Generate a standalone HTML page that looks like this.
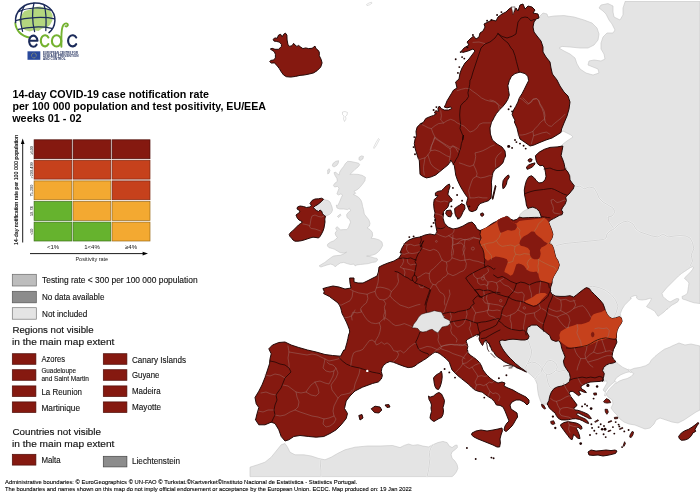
<!DOCTYPE html>
<html><head><meta charset="utf-8"><title>ECDC map</title>
<style>
html,body{margin:0;padding:0;background:#fff;}
body{width:700px;height:494px;overflow:hidden;font-family:"Liberation Sans",sans-serif;}
svg{display:block;position:absolute;left:0;top:0;will-change:transform;}
text{font-family:"Liberation Sans",sans-serif;fill:#111;}
.t{font-weight:bold;font-size:10.3px;fill:#000;}
.l{font-size:8.6px;stroke:#111;stroke-width:0.12px;}
.h{font-size:9.7px;stroke:#111;stroke-width:0.15px;}
.s{font-size:6.8px;stroke:#111;stroke-width:0.1px;}
.f{font-size:5.9px;fill:#000;stroke:#000;stroke-width:0.1px;}
</style></head><body>
<svg width="700" height="494" viewBox="0 0 700 494">
<rect x="0" y="0" width="700" height="494" fill="#ffffff"/>
<!-- ================= MAP ================= -->
<g id="map">
<path d="M625.0,1.5 L700.0,1.5 L700.0,303.5 L694.0,302.8 L690.0,301.5 L686.0,300.0 L682.5,299.0 L682.0,296.5 L685.5,295.0 L687.5,293.0 L688.0,290.0 L688.5,286.5 L689.0,283.0 L687.0,280.5 L684.5,278.5 L685.5,277.0 L688.0,274.5 L690.5,272.0 L692.5,269.5 L693.5,267.5 L692.5,266.8 L690.5,267.5 L687.5,269.5 L684.5,271.5 L681.5,273.5 L678.5,276.0 L675.5,279.0 L672.5,282.0 L669.5,285.0 L666.5,288.0 L664.0,291.0 L662.0,293.5 L663.0,296.5 L665.0,298.5 L667.5,300.5 L670.0,302.0 L672.0,301.0 L674.5,299.5 L677.0,298.5 L679.0,299.0 L678.0,301.5 L675.0,303.5 L672.0,305.0 L669.0,307.5 L667.0,309.5 L667.4,308.6 L664.0,312.0 L660.6,314.6 L658.0,316.3 L654.6,311.1 L650.3,308.6 L646.9,306.9 L646.5,306.5 L648.5,304.0 L650.5,301.0 L651.5,298.5 L650.0,298.2 L646.0,299.5 L642.0,300.0 L638.5,299.5 L636.5,298.0 L637.0,296.0 L635.0,295.5 L632.0,296.5 L630.0,298.0 L631.4,298.3 L628.0,301.7 L624.6,305.1 L622.0,309.4 L620.3,313.7 L621.1,318.0 L612.0,322.0 L590.0,302.0 L560.0,302.0 L546.0,288.0 L545.0,260.0 L545.0,240.0 L544.0,223.0 L548.0,210.0 L555.0,190.0 L555.0,160.0 L558.0,150.0 L562.5,147.0 L560.0,147.0 L563.0,144.0 L567.0,141.0 L570.0,139.0 L573.0,137.0 L571.0,135.0 L567.0,133.0 L563.0,131.0 L561.0,132.4 L558.0,120.0 L558.0,100.0 L546.0,80.0 L532.0,40.0 L533.0,20.0 L539.0,17.0 L543.0,13.0 L547.0,14.0 L548.0,17.0 L554.0,16.0 L564.0,15.6 L574.0,17.0 L584.0,20.0 L592.0,23.0 L597.0,28.0 L599.0,34.0 L598.0,40.0 L594.0,45.0 L588.0,48.0 L580.0,48.0 L570.0,47.0 L562.0,46.4 L559.0,48.0 L564.0,51.0 L570.0,54.0 L575.0,58.0 L577.0,64.0 L580.0,69.0 L586.0,73.0 L593.0,75.0 L599.0,73.0 L598.0,69.0 L593.0,67.0 L588.0,65.0 L589.0,61.0 L594.0,60.0 L601.0,61.0 L605.0,59.0 L604.0,54.0 L601.0,49.0 L601.0,43.0 L603.0,37.0 L607.0,33.0 L613.0,33.0 L615.0,30.0 L612.0,24.0 L609.0,20.0 L606.0,14.0 L603.0,11.0 L599.0,8.0 L601.0,5.0 L608.0,3.6 L613.0,6.0 L613.0,12.0 L614.0,17.0 L620.0,20.0 L623.0,15.0 L623.0,8.0 L625.0,2.0Z" fill="#e4e4e4" stroke="#c4c4c4" stroke-width="0.6" stroke-linejoin="round"/>
<path d="M529.3,207.9 L527.4,209.3 L524.3,210.7 L521.4,212.9 L519.7,215.0 L519.3,217.1 L522.9,218.1 L528.6,218.0 L534.3,217.9 L538.6,217.9 L541.7,218.1 L541.0,215.0 L539.6,211.4 L536.7,208.3 L532.9,206.9Z" fill="#e4e4e4" stroke="#c4c4c4" stroke-width="0.6" stroke-linejoin="round"/>
<path d="M347.7,161.3 L351.1,161.6 L355.1,162.4 L358.6,163.2 L359.7,164.7 L358.0,167.0 L355.1,169.3 L352.3,172.1 L350.0,174.4 L353.4,174.2 L358.0,174.4 L362.0,175.3 L365.4,177.3 L364.9,180.7 L362.6,184.1 L359.7,187.6 L356.9,189.9 L354.0,191.3 L355.7,193.3 L353.4,194.4 L355.7,195.6 L358.6,197.3 L360.9,200.1 L362.0,203.0 L362.6,206.4 L363.5,209.6 L364.3,214.1 L366.6,217.0 L368.9,219.9 L370.0,223.3 L369.4,226.1 L367.1,227.9 L370.0,229.6 L372.3,232.4 L372.6,235.9 L371.1,238.1 L375.1,238.7 L379.1,239.9 L382.0,242.1 L382.6,245.6 L380.9,248.7 L378.6,251.6 L375.7,253.9 L372.9,255.0 L369.4,255.6 L366.6,256.1 L370.6,256.7 L374.0,257.9 L376.9,258.4 L377.7,260.1 L375.7,261.9 L372.3,262.4 L368.3,263.6 L364.3,264.1 L360.3,264.5 L356.9,264.9 L355.1,265.9 L354.0,264.1 L350.6,264.5 L347.1,263.6 L343.7,262.4 L340.3,263.0 L337.4,264.9 L335.1,266.8 L333.4,264.9 L330.6,264.1 L327.1,264.9 L323.7,266.1 L320.9,267.0 L319.1,265.9 L322.0,264.1 L324.9,262.4 L327.7,260.1 L330.6,257.9 L333.4,256.1 L336.9,255.6 L340.3,255.3 L343.7,253.9 L346.6,252.1 L343.7,253.1 L340.3,252.7 L337.4,251.0 L334.6,249.3 L332.3,248.5 L328.9,247.6 L327.4,245.9 L327.7,244.1 L330.6,242.1 L333.4,241.0 L335.7,239.3 L337.4,237.6 L335.7,235.3 L335.1,233.0 L336.9,230.7 L335.7,228.4 L336.9,226.7 L338.6,227.9 L340.3,229.9 L343.7,229.6 L346.6,229.6 L348.3,227.9 L349.4,225.0 L350.6,222.1 L349.4,219.3 L347.1,217.6 L346.6,214.7 L348.3,212.4 L350.6,210.7 L349.4,208.4 L347.7,209.6 L343.7,209.0 L339.7,209.0 L336.9,207.9 L336.3,205.0 L337.4,205.9 L339.1,203.0 L340.3,200.1 L341.4,197.3 L342.6,195.0 L340.9,193.9 L338.6,195.0 L336.9,193.9 L338.0,191.0 L339.1,188.1 L337.4,186.4 L334.6,187.0 L333.4,185.3 L335.1,183.0 L337.4,181.3 L336.9,178.4 L335.1,175.6 L334.0,172.7 L335.7,172.1 L337.4,173.9 L339.1,175.0 L339.7,172.1 L341.4,169.3 L343.7,166.4 L345.4,163.6Z" fill="#e4e4e4" stroke="#c4c4c4" stroke-width="0.6" stroke-linejoin="round"/>
<path d="M323.5,199.2 L325.5,200.0 L328.0,200.5 L330.0,202.0 L331.0,204.5 L332.0,207.0 L332.5,210.0 L331.5,212.5 L329.5,214.5 L327.0,215.5 L325.5,216.2 L324.0,215.5 L322.5,213.5 L321.5,211.0 L320.0,210.0 L318.5,211.5 L316.5,210.5 L314.5,209.0 L313.5,207.5 L315.0,206.0 L317.0,205.0 L319.0,203.5 L321.5,201.5Z" fill="#e4e4e4" stroke="#c4c4c4" stroke-width="0.6" stroke-linejoin="round"/>
<path d="M332.9,163.6 L335.7,161.3 L338.6,160.7 L338.3,163.0 L336.9,165.3 L334.0,167.0 L332.3,165.9Z" fill="#e4e4e4" stroke="#c4c4c4" stroke-width="0.6" stroke-linejoin="round"/>
<path d="M327.7,169.9 L329.2,168.7 L330.0,170.4 L328.9,173.3 L327.7,173.9Z" fill="#e4e4e4" stroke="#c4c4c4" stroke-width="0.6" stroke-linejoin="round"/>
<path d="M359.1,157.3 L361.4,155.9 L363.5,156.4 L362.8,159.0 L360.3,160.5 L358.9,159.6Z" fill="#e4e4e4" stroke="#c4c4c4" stroke-width="0.6" stroke-linejoin="round"/>
<path d="M337.4,216.4 L340.3,214.1 L340.9,215.3 L338.6,217.6Z" fill="#e4e4e4" stroke="#c4c4c4" stroke-width="0.6" stroke-linejoin="round"/>
<path d="M526.6,371.4 L530.9,374.9 L535.1,379.1 L537.2,384.3 L537.7,390.3 L538.6,395.4 L540.3,400.6 L542.0,404.0 L548.0,404.5 L556.0,400.0 L572.0,386.0 L573.0,370.0 L566.0,355.0 L563.0,340.0 L550.0,330.0 L532.0,323.0 L526.0,335.0 L500.0,338.0 L497.0,343.0 L505.0,355.0 L515.0,365.0Z" fill="#e4e4e4" stroke="#c4c4c4" stroke-width="0.6" stroke-linejoin="round"/>
<path d="M616.0,361.7 L618.6,364.3 L622.9,367.4 L627.1,369.3 L628.9,370.4 L634.3,368.3 L640.0,367.4 L645.7,365.7 L649.3,363.6 L651.4,360.0 L655.0,356.4 L659.3,352.9 L664.3,349.3 L670.0,347.1 L672.0,346.0 L679.0,343.0 L685.0,345.0 L691.0,344.0 L700.0,346.0 L700.0,410.0 L696.0,412.0 L690.0,416.0 L684.0,420.0 L678.0,423.0 L672.0,422.0 L666.0,420.0 L660.0,418.0 L656.0,420.0 L654.0,424.0 L650.0,428.0 L645.0,429.0 L640.0,427.0 L635.0,425.0 L629.0,424.0 L624.0,422.0 L620.0,419.0 L617.0,415.0 L614.0,412.0 L611.0,408.0 L613.0,404.0 L612.4,400.0 L608.0,397.0 L605.6,393.0 L605.0,395.7 L606.4,392.1 L604.3,391.4 L603.1,390.0 L605.0,386.4 L607.1,382.9 L606.4,380.7 L603.6,381.7 L602.1,380.7 L603.6,372.9 L604.3,367.4 L608.6,364.3 L612.9,363.7Z" fill="#e4e4e4" stroke="#c4c4c4" stroke-width="0.6" stroke-linejoin="round"/>
<path d="M250.0,467.2 L257.5,464.8 L265.0,462.2 L271.2,457.2 L276.2,451.0 L281.2,444.8 L285.0,443.5 L287.5,447.2 L290.0,452.2 L295.0,454.8 L303.8,454.8 L311.2,456.0 L318.8,458.5 L325.0,459.8 L331.2,457.2 L337.5,453.5 L345.0,449.8 L355.0,447.2 L367.5,446.0 L380.0,446.0 L392.5,445.5 L400.0,447.6 L404.3,445.4 L408.6,444.0 L412.9,445.4 L417.9,444.7 L422.9,446.1 L428.6,446.9 L432.9,444.7 L437.9,442.6 L442.9,441.4 L447.1,442.6 L449.3,446.1 L452.1,447.6 L455.0,445.4 L457.1,445.1 L457.4,447.6 L455.0,449.7 L452.1,451.9 L451.1,454.7 L452.1,458.3 L455.0,461.1 L457.1,464.7 L457.9,468.3 L456.4,471.9 L454.3,474.7 L452.1,476.6 L250.0,476.6Z" fill="#e4e4e4" stroke="#c4c4c4" stroke-width="0.6" stroke-linejoin="round"/>
<path d="M633.9,373.6 L631.0,376.6 L627.1,378.6 L623.1,379.6 L619.3,381.1 L616.4,383.1 L614.3,381.1 L616.6,377.7 L620.9,374.7 L626.0,372.6 L630.3,371.6Z" fill="#ffffff" stroke="#c4c4c4" stroke-width="0.6" stroke-linejoin="round"/>
<path d="M627.9,369.6 L628.7,369.1 L631.4,372.0 L630.3,372.6Z" fill="#ffffff" stroke="#c4c4c4" stroke-width="0.6" stroke-linejoin="round"/>
<path d="M616.4,382.1 L615.4,381.1 L611.4,384.3 L607.9,387.9 L605.4,391.7 L604.7,395.7 L605.7,396.0 L607.1,392.4 L609.7,388.9 L613.1,385.4Z" fill="#ffffff" stroke="#c4c4c4" stroke-width="0.6" stroke-linejoin="round"/>
<path d="M575.0,187.0 L580.0,186.0 L584.0,189.0 L589.0,187.0 L594.0,188.0 L597.0,193.0 L599.0,198.0 L603.0,202.0 L608.0,205.0 L613.0,208.0 L615.0,212.0 L612.0,216.0 L608.0,217.0 L609.0,222.0 L612.0,226.0 L614.0,229.0 L618.0,225.0 L623.0,222.0 L628.0,221.0 L633.0,224.0 L636.0,229.0 L640.0,232.0 L646.0,234.0 L652.0,236.0 L658.0,237.0 L663.0,234.0 L668.0,237.0 L674.0,236.0 L680.0,235.6 L686.0,236.0 L690.0,238.0 L692.5,242.5 L693.8,248.8 L691.2,255.0 L692.5,261.2 L690.0,266.2" fill="none" stroke="#f4f4f4" stroke-width="1.6" stroke-linejoin="round" stroke-linecap="round"/>
<path d="M575.0,187.0 L580.0,186.0 L584.0,189.0 L589.0,187.0 L594.0,188.0 L597.0,193.0 L599.0,198.0 L603.0,202.0 L608.0,205.0 L613.0,208.0 L615.0,212.0 L612.0,216.0 L608.0,217.0 L609.0,222.0 L612.0,226.0 L614.0,229.0 L618.0,225.0 L623.0,222.0 L628.0,221.0 L633.0,224.0 L636.0,229.0 L640.0,232.0 L646.0,234.0 L652.0,236.0 L658.0,237.0 L663.0,234.0 L668.0,237.0 L674.0,236.0 L680.0,235.6 L686.0,236.0 L690.0,238.0 L692.5,242.5 L693.8,248.8 L691.2,255.0 L692.5,261.2 L690.0,266.2" fill="none" stroke="#bdbdbd" stroke-width="0.6" stroke-linejoin="round" stroke-linecap="round"/>
<path d="M614.0,229.0 L610.0,231.0 L607.0,234.0 L606.0,238.0 L603.8,239.5 L595.0,240.5 L585.0,241.5 L575.0,242.5 L565.0,243.5 L556.2,245.5" fill="none" stroke="#f4f4f4" stroke-width="1.6" stroke-linejoin="round" stroke-linecap="round"/>
<path d="M614.0,229.0 L610.0,231.0 L607.0,234.0 L606.0,238.0 L603.8,239.5 L595.0,240.5 L585.0,241.5 L575.0,242.5 L565.0,243.5 L556.2,245.5" fill="none" stroke="#bdbdbd" stroke-width="0.6" stroke-linejoin="round" stroke-linecap="round"/>
<path d="M586.2,287.5 L592.5,286.2 L598.8,287.5 L605.0,290.0 L611.2,294.5 L615.5,300.0 L618.0,306.2 L616.2,312.5 L613.8,317.5" fill="none" stroke="#f4f4f4" stroke-width="1.6" stroke-linejoin="round" stroke-linecap="round"/>
<path d="M586.2,287.5 L592.5,286.2 L598.8,287.5 L605.0,290.0 L611.2,294.5 L615.5,300.0 L618.0,306.2 L616.2,312.5 L613.8,317.5" fill="none" stroke="#bdbdbd" stroke-width="0.6" stroke-linejoin="round" stroke-linecap="round"/>
<path d="M528.3,340.6 L530.0,345.7 L531.7,350.9 L530.9,356.0 L529.1,360.3 L527.4,363.7 L525.7,367.1 L526.6,371.4" fill="none" stroke="#f4f4f4" stroke-width="1.6" stroke-linejoin="round" stroke-linecap="round"/>
<path d="M528.3,340.6 L530.0,345.7 L531.7,350.9 L530.9,356.0 L529.1,360.3 L527.4,363.7 L525.7,367.1 L526.6,371.4" fill="none" stroke="#bdbdbd" stroke-width="0.6" stroke-linejoin="round" stroke-linecap="round"/>
<path d="M527.4,363.7 L531.7,362.0 L536.0,362.9 L539.4,365.4 L542.0,368.9 L541.1,372.3 L538.6,374.9 L536.0,377.4 L535.1,379.1" fill="none" stroke="#f4f4f4" stroke-width="1.6" stroke-linejoin="round" stroke-linecap="round"/>
<path d="M527.4,363.7 L531.7,362.0 L536.0,362.9 L539.4,365.4 L542.0,368.9 L541.1,372.3 L538.6,374.9 L536.0,377.4 L535.1,379.1" fill="none" stroke="#bdbdbd" stroke-width="0.6" stroke-linejoin="round" stroke-linecap="round"/>
<path d="M542.0,368.9 L544.6,365.4 L547.1,361.1 L551.4,360.3 L555.7,362.9 L557.4,367.1 L555.7,370.6 L552.3,373.1 L548.9,374.9 L546.3,374.0 L543.7,371.4 L542.0,368.9" fill="none" stroke="#f4f4f4" stroke-width="1.6" stroke-linejoin="round" stroke-linecap="round"/>
<path d="M542.0,368.9 L544.6,365.4 L547.1,361.1 L551.4,360.3 L555.7,362.9 L557.4,367.1 L555.7,370.6 L552.3,373.1 L548.9,374.9 L546.3,374.0 L543.7,371.4 L542.0,368.9" fill="none" stroke="#bdbdbd" stroke-width="0.6" stroke-linejoin="round" stroke-linecap="round"/>
<path d="M546.3,374.0 L547.1,378.3 L548.0,382.6 L549.7,386.9 L552.3,388.6 L554.0,388.6" fill="none" stroke="#f4f4f4" stroke-width="1.6" stroke-linejoin="round" stroke-linecap="round"/>
<path d="M546.3,374.0 L547.1,378.3 L548.0,382.6 L549.7,386.9 L552.3,388.6 L554.0,388.6" fill="none" stroke="#bdbdbd" stroke-width="0.6" stroke-linejoin="round" stroke-linecap="round"/>
<path d="M555.7,370.6 L559.1,371.4 L563.4,370.6 L566.9,369.7" fill="none" stroke="#f4f4f4" stroke-width="1.6" stroke-linejoin="round" stroke-linecap="round"/>
<path d="M555.7,370.6 L559.1,371.4 L563.4,370.6 L566.9,369.7" fill="none" stroke="#bdbdbd" stroke-width="0.6" stroke-linejoin="round" stroke-linecap="round"/>
<path d="M320.2,460.0 L320.5,466.0 L321.0,471.0 L320.8,476.5" fill="none" stroke="#f4f4f4" stroke-width="1.6" stroke-linejoin="round" stroke-linecap="round"/>
<path d="M320.2,460.0 L320.5,466.0 L321.0,471.0 L320.8,476.5" fill="none" stroke="#bdbdbd" stroke-width="0.6" stroke-linejoin="round" stroke-linecap="round"/>
<path d="M432.9,444.7 L430.7,448.3 L429.3,452.6 L430.0,458.3 L429.3,464.0 L428.6,469.7 L427.1,476.6" fill="none" stroke="#f4f4f4" stroke-width="1.6" stroke-linejoin="round" stroke-linecap="round"/>
<path d="M432.9,444.7 L430.7,448.3 L429.3,452.6 L430.0,458.3 L429.3,464.0 L428.6,469.7 L427.1,476.6" fill="none" stroke="#bdbdbd" stroke-width="0.6" stroke-linejoin="round" stroke-linecap="round"/>
<path d="M273.1,39.3 L275.0,37.9 L277.1,38.3 L278.6,35.0 L280.7,34.3 L282.1,36.9 L283.6,34.3 L285.4,33.1 L286.9,35.0 L287.1,40.0 L287.9,44.3 L289.3,46.4 L292.1,45.7 L293.6,43.3 L295.0,45.0 L296.9,46.4 L298.6,45.4 L300.7,47.1 L302.9,48.6 L305.7,47.9 L308.6,48.6 L312.1,48.3 L315.0,46.1 L316.0,48.6 L317.9,50.0 L319.3,52.1 L319.3,55.7 L321.1,59.3 L322.1,62.9 L320.7,67.1 L317.1,70.7 L313.6,72.9 L309.3,74.0 L304.3,75.0 L300.0,75.4 L295.7,76.4 L290.7,77.1 L286.4,76.7 L283.6,75.0 L281.4,72.1 L279.3,68.6 L276.9,65.4 L274.3,62.9 L271.4,63.1 L269.7,61.7 L270.7,60.4 L273.6,60.0 L275.4,57.9 L275.4,54.3 L274.3,51.7 L272.1,50.3 L270.3,49.0 L272.1,48.3 L275.0,49.3 L278.6,49.3 L281.4,46.4 L281.4,44.3 L279.3,42.1 L276.4,41.4 L274.0,41.1Z" fill="#851910" stroke="#1c0403" stroke-width="0.95" stroke-linejoin="round"/>
<path d="M450.7,160.0 L450.0,162.1 L447.9,165.0 L444.3,167.9 L440.0,171.4 L435.7,175.0 L430.7,177.1 L426.4,177.9 L422.9,176.4 L420.0,174.3 L419.3,160.0 L418.3,158.6 L417.1,155.0 L416.0,151.4 L415.0,147.9 L414.3,143.6 L415.0,139.3 L416.4,135.7 L416.0,131.4 L417.1,127.1 L420.0,124.3 L423.6,122.1 L425.7,118.6 L429.3,116.9 L433.6,115.4 L436.4,113.6 L434.3,112.9 L435.7,110.7 L438.6,111.4 L437.9,108.6 L439.3,106.0 L441.4,108.6 L444.3,110.0 L448.6,110.0 L451.7,108.6 L450.7,106.9 L447.1,107.9 L444.3,107.1 L445.7,104.3 L447.1,100.7 L449.3,97.1 L451.4,93.6 L453.6,90.0 L457.0,88.0 L455.6,82.0 L459.0,79.0 L460.0,73.0 L462.0,68.0 L465.0,63.0 L469.0,59.0 L472.0,55.0 L475.0,51.0 L473.0,49.0 L468.0,51.0 L463.0,52.4 L461.0,51.6 L464.0,48.0 L469.0,45.0 L467.0,42.0 L470.0,39.0 L473.6,36.0 L476.0,39.0 L479.0,37.0 L480.0,33.0 L483.0,31.0 L485.0,27.0 L484.0,24.0 L488.0,22.0 L492.0,20.0 L496.0,21.0 L498.0,17.0 L502.0,14.0 L506.0,12.0 L509.0,9.0 L512.0,7.0 L514.0,12.0 L516.0,8.0 L518.0,11.0 L520.0,5.0 L523.0,4.0 L525.0,9.0 L528.0,6.0 L532.0,7.0 L535.0,10.0 L533.0,13.0 L538.0,14.0 L539.0,18.0 L536.0,19.0 L534.0,22.0 L533.0,27.0 L534.0,32.0 L537.0,36.0 L541.0,41.0 L543.0,47.0 L543.0,52.0 L546.0,57.0 L550.0,62.0 L551.0,68.0 L552.4,74.0 L557.0,80.0 L560.0,86.0 L564.0,92.0 L568.0,96.0 L570.0,102.0 L569.0,109.0 L567.0,116.0 L564.0,123.0 L561.6,129.0 L561.0,132.4 L557.0,135.0 L552.0,138.0 L546.0,140.0 L540.0,142.4 L534.0,145.0 L530.0,146.0 L525.0,142.4 L520.0,139.0 L518.4,134.0 L517.0,128.0 L514.4,122.0 L515.0,120.0 L513.6,117.9 L512.1,114.3 L513.6,110.0 L515.7,106.4 L517.9,102.1 L519.3,97.9 L522.1,93.6 L524.3,89.3 L526.4,85.0 L528.6,80.7 L527.9,76.4 L525.0,73.6 L520.0,72.1 L515.0,73.6 L511.4,76.4 L509.3,80.7 L507.9,85.7 L508.6,90.7 L509.3,95.0 L507.9,99.3 L505.7,102.9 L502.9,106.4 L499.3,110.0 L496.4,113.6 L494.3,117.1 L492.9,120.0 L491.6,122.0 L490.0,128.0 L490.4,134.0 L492.4,140.0 L497.0,144.0 L502.0,147.0 L505.0,151.0 L505.6,156.0 L504.3,158.6 L502.9,162.9 L499.3,166.4 L495.0,169.3 L492.9,172.9 L492.1,177.1 L491.4,182.1 L491.7,187.1 L491.4,192.9 L491.1,197.9 L488.6,200.7 L484.3,202.1 L480.0,203.6 L477.9,206.4 L476.4,210.0 L472.1,211.7 L469.3,210.7 L467.9,207.1 L466.4,203.6 L467.1,200.7 L467.9,197.9 L465.7,195.0 L462.9,190.7 L460.0,185.7 L457.4,180.0 L455.7,175.0 L455.0,170.0 L454.3,165.7 L452.1,162.1Z" fill="#851910" stroke="#1c0403" stroke-width="0.95" stroke-linejoin="round"/>
<path d="M340.5,356.2 L332.5,355.5 L325.0,354.5 L316.2,352.0 L307.5,350.0 L298.8,347.5 L291.2,345.0 L285.0,342.0 L278.8,342.5 L272.5,345.0 L268.8,348.8 L271.2,353.8 L270.0,358.8 L269.5,363.8 L267.5,370.0 L265.0,377.5 L262.0,385.0 L258.8,391.2 L255.0,397.5 L256.2,403.8 L258.8,407.5 L257.0,413.8 L255.5,420.0 L255.5,419.8 L258.8,424.8 L265.0,424.8 L271.2,422.2 L275.0,423.5 L278.8,429.8 L281.2,436.5 L285.0,441.0 L288.8,439.8 L293.8,436.5 L300.0,435.5 L308.8,436.5 L316.2,437.2 L323.8,436.5 L330.0,433.5 L336.2,429.8 L341.2,424.8 L346.2,418.5 L347.5,413.5 L344.5,408.5 L346.2,401.0 L350.0,396.0 L355.0,391.0 L362.5,387.2 L372.5,383.5 L378.4,381.9 L381.3,379.0 L382.4,375.6 L381.3,371.6 L381.9,368.1 L383.6,365.3 L386.4,363.0 L389.9,361.5 L393.3,362.2 L396.7,363.6 L400.1,364.9 L404.1,366.4 L408.1,367.6 L412.1,367.2 L415.0,365.9 L417.9,363.6 L420.7,361.9 L423.6,360.1 L426.4,358.4 L429.3,356.1 L432.1,353.9 L435.0,352.1 L437.9,352.7 L440.7,354.4 L443.6,356.7 L446.4,359.0 L449.3,362.1 L450.7,366.4 L452.1,370.0 L455.0,372.9 L457.9,375.7 L461.4,378.6 L465.0,381.4 L468.6,384.3 L471.4,387.1 L475.0,390.0 L478.6,391.4 L482.1,392.1 L485.0,394.3 L487.9,396.4 L491.4,398.6 L494.3,401.4 L496.4,405.0 L500.0,405.4 L503.0,407.0 L505.0,411.0 L507.0,416.0 L509.0,421.0 L507.0,423.0 L505.0,426.0 L504.0,430.0 L506.0,431.6 L509.0,429.0 L512.0,426.0 L514.0,423.0 L515.6,420.0 L517.6,417.0 L517.0,413.0 L514.0,411.0 L511.0,409.0 L510.0,405.0 L512.0,402.0 L516.0,400.0 L520.0,400.0 L524.0,402.0 L527.0,405.0 L529.0,403.0 L529.0,400.0 L526.0,397.0 L522.0,395.0 L518.0,393.0 L513.0,390.0 L508.0,388.0 L504.0,386.0 L505.0,383.0 L502.0,382.0 L498.0,383.0 L494.0,381.0 L490.0,378.0 L486.0,374.0 L483.0,370.0 L483.0,370.0 L481.5,366.0 L479.5,362.5 L476.5,359.5 L473.0,357.0 L470.0,355.0 L468.0,352.5 L467.2,349.5 L467.8,346.5 L467.0,343.5 L466.0,341.0 L467.5,339.5 L470.0,338.0 L473.0,336.5 L476.0,335.0 L478.5,334.2 L479.5,336.5 L479.0,339.0 L480.0,341.5 L481.5,344.0 L482.5,345.5 L483.5,343.5 L484.5,341.0 L486.2,340.0 L487.5,342.5 L489.0,343.5 L490.0,345.5 L491.0,348.0 L492.0,350.5 L494.0,352.5 L495.5,355.0 L497.5,357.0 L500.0,358.5 L502.0,360.0 L504.0,361.5 L507.0,363.0 L510.0,364.5 L513.0,365.5 L516.0,367.0 L519.0,368.5 L522.0,370.0 L525.0,371.5 L526.5,372.0 L524.0,370.0 L521.0,368.0 L518.0,365.5 L515.5,363.5 L513.0,361.0 L510.5,358.5 L508.0,356.0 L506.0,353.5 L504.0,351.0 L502.5,348.5 L501.0,346.0 L500.0,343.5 L499.5,341.0 L502.0,340.0 L505.0,340.5 L509.0,339.5 L513.0,339.2 L517.0,339.5 L521.0,340.0 L525.0,340.0 L528.0,339.0 L529.1,336.3 L526.6,332.0 L527.4,327.7 L531.7,325.1 L536.9,325.1 L541.1,328.6 L545.4,332.0 L549.7,335.4 L551.4,339.7 L555.7,341.4 L559.1,340.6 L560.9,344.0 L561.7,348.3 L563.4,352.6 L565.1,356.9 L563.4,361.1 L564.3,365.4 L566.9,369.7 L569.4,373.1 L570.3,377.4 L569.4,381.7 L566.0,384.3 L561.7,386.0 L557.4,386.9 L554.0,388.6 L551.4,392.0 L549.7,396.3 L548.9,400.6 L547.1,404.0 L547.9,405.0 L549.3,407.9 L552.1,410.7 L555.0,412.9 L556.4,415.7 L558.6,418.6 L561.4,419.9 L565.0,420.0 L568.6,419.7 L572.1,418.9 L575.7,418.7 L579.3,419.4 L582.9,420.9 L585.7,422.6 L588.6,423.6 L587.9,421.4 L585.7,419.3 L582.9,417.9 L579.3,416.4 L576.4,414.3 L577.9,412.9 L580.7,414.3 L583.6,415.7 L586.4,417.1 L589.3,418.6 L591.4,418.6 L590.0,416.4 L587.9,414.3 L585.0,412.9 L581.4,411.4 L577.9,410.3 L575.0,410.0 L573.6,407.9 L575.7,406.9 L577.1,405.0 L575.0,402.1 L572.9,399.3 L570.7,396.4 L569.3,393.6 L570.0,391.4 L572.9,391.4 L575.7,393.6 L578.6,395.7 L580.7,394.3 L578.6,391.4 L580.7,390.7 L583.6,392.1 L586.4,392.6 L585.0,390.7 L582.1,389.3 L580.7,386.9 L582.9,385.0 L585.7,383.6 L590.0,382.1 L595.0,381.7 L600.0,381.4 L603.6,380.0 L602.1,381.7 L602.6,380.0 L603.6,377.1 L604.3,373.6 L602.6,370.7 L603.6,367.4 L606.4,365.0 L609.3,363.6 L612.9,363.1 L616.0,361.7 L613.6,359.3 L612.1,356.4 L612.6,352.9 L613.6,349.3 L615.4,345.7 L616.9,342.1 L616.0,338.6 L616.4,334.3 L615.7,330.0 L616.4,337.9 L616.4,334.3 L617.1,330.7 L618.6,327.1 L620.7,324.3 L622.1,321.4 L621.4,317.9 L619.3,316.7 L615.7,317.9 L612.1,318.6 L609.3,317.1 L607.1,314.3 L605.4,310.7 L604.3,307.1 L602.9,303.6 L600.0,300.0 L597.1,297.1 L594.3,294.3 L591.4,291.4 L589.3,288.6 L586.4,287.6 L583.6,289.3 L580.0,292.1 L576.4,295.0 L573.6,297.1 L570.0,295.7 L565.0,296.4 L560.0,296.4 L555.7,296.1 L552.1,294.3 L550.3,291.4 L550.7,287.1 L552.1,282.9 L552.1,280.0 L553.6,276.4 L555.7,272.9 L557.9,269.3 L559.3,265.0 L557.9,260.7 L555.7,257.1 L554.6,252.9 L553.6,248.6 L552.1,245.0 L549.3,243.6 L550.0,241.4 L552.1,237.9 L552.9,234.3 L551.7,230.0 L550.0,225.7 L548.6,222.1 L550.7,220.0 L553.6,218.6 L556.4,217.1 L559.3,215.4 L562.1,214.6 L562.9,212.1 L561.4,210.0 L562.9,207.1 L565.0,204.3 L566.4,200.7 L565.7,197.1 L567.9,195.0 L570.0,192.9 L572.1,190.0 L573.1,189.3 L574.3,185.7 L572.1,182.9 L570.0,180.0 L569.7,175.7 L567.9,172.1 L565.0,168.6 L564.3,164.3 L562.9,160.0 L561.1,155.7 L562.1,150.7 L562.9,146.0 L557.1,146.9 L550.0,147.4 L544.3,149.3 L539.3,152.1 L535.4,155.7 L536.0,160.0 L537.4,163.6 L540.0,165.7 L542.9,165.4 L544.6,167.9 L545.4,172.1 L546.0,176.4 L545.0,180.0 L542.1,182.6 L538.9,182.9 L536.4,180.7 L534.3,177.9 L531.4,175.7 L528.6,176.9 L526.4,180.7 L525.0,185.7 L524.3,190.0 L524.6,195.0 L525.7,200.0 L526.4,205.0 L527.9,208.6 L529.3,207.9 L532.9,207.1 L536.4,208.6 L539.3,211.4 L540.7,215.0 L541.4,217.9 L538.6,217.4 L534.3,217.4 L528.6,217.6 L522.9,217.9 L519.3,217.1 L517.1,219.3 L513.6,220.3 L510.7,219.3 L508.6,217.1 L506.4,216.4 L503.6,217.9 L500.0,219.3 L496.4,221.4 L492.9,223.1 L490.0,225.0 L486.0,228.0 L480.0,230.6 L477.0,229.0 L475.0,225.0 L472.0,222.0 L468.0,223.0 L463.0,226.0 L458.0,228.0 L453.0,229.0 L448.0,227.0 L444.4,223.0 L443.0,218.0 L443.6,213.0 L442.9,215.0 L443.6,211.4 L445.7,209.3 L447.9,207.1 L448.6,205.0 L449.3,202.1 L451.7,201.4 L452.1,199.3 L450.0,197.1 L447.9,194.3 L448.6,190.7 L450.0,186.4 L449.3,184.0 L446.4,185.7 L443.6,188.6 L441.4,190.7 L437.9,191.4 L435.4,192.9 L435.4,195.7 L437.9,195.4 L436.4,197.9 L434.3,199.3 L433.6,203.6 L434.0,208.6 L435.0,212.9 L434.3,216.4 L435.7,220.0 L435.0,221.0 L436.0,227.0 L437.0,232.0 L435.0,235.0 L430.0,234.0 L425.0,235.0 L420.0,237.0 L414.0,238.0 L409.0,240.0 L405.0,243.0 L402.0,248.0 L400.0,253.0 L402.0,253.0 L399.0,258.0 L394.0,261.0 L388.0,263.0 L383.0,265.0 L379.0,267.0 L378.4,272.0 L377.0,276.0 L373.0,278.0 L368.0,280.6 L363.0,283.0 L358.0,283.0 L354.0,282.0 L354.0,278.0 L349.6,278.0 L350.0,283.0 L351.0,288.0 L345.0,289.0 L339.0,287.0 L333.0,286.0 L327.0,287.4 L322.9,288.6 L324.3,291.4 L323.6,293.6 L326.4,295.0 L329.3,296.4 L332.1,298.6 L335.0,300.7 L337.9,302.9 L339.3,305.0 L340.7,307.9 L341.4,310.7 L342.1,313.6 L343.6,316.4 L345.0,319.3 L346.4,322.1 L347.9,325.7 L349.3,329.3 L349.7,332.1 L348.6,335.0 L347.9,338.6 L346.9,342.9 L345.7,347.1 L345.0,350.0 L343.8,350.0Z" fill="#851910" stroke="#1c0403" stroke-width="0.95" stroke-linejoin="round"/>
<path d="M310.0,203.5 L312.0,200.5 L315.0,199.0 L318.5,198.8 L321.5,198.2 L323.5,199.2 L321.5,201.5 L319.0,203.5 L317.0,205.0 L315.0,206.0 L313.5,207.5 L314.5,209.0 L316.5,210.5 L318.5,211.5 L320.0,210.0 L321.5,211.0 L322.5,213.5 L324.0,215.5 L325.5,216.2 L324.8,219.0 L325.0,222.0 L324.5,225.0 L324.0,228.0 L323.0,231.0 L321.5,234.0 L320.0,236.5 L318.5,238.0 L316.0,237.5 L313.0,237.2 L310.0,238.0 L307.0,239.0 L304.0,240.0 L301.0,240.8 L298.0,241.2 L295.0,241.2 L293.0,240.0 L291.5,238.0 L290.0,236.5 L289.2,234.5 L290.5,232.5 L292.5,231.0 L294.5,229.0 L296.5,227.0 L298.5,225.0 L300.5,223.5 L302.5,222.0 L301.0,221.0 L299.0,220.0 L297.5,218.5 L296.5,216.5 L296.0,215.0 L298.0,213.5 L300.0,212.0 L299.0,210.0 L297.0,209.0 L297.5,207.0 L300.0,206.0 L303.5,206.5 L306.5,207.5 L309.5,207.0 L311.5,205.5Z" fill="#851910" stroke="#1c0403" stroke-width="0.95" stroke-linejoin="round"/>
<path d="M472.0,433.0 L476.0,431.0 L481.0,430.0 L487.0,431.0 L493.0,430.0 L498.0,429.0 L502.0,428.0 L502.4,431.0 L501.0,435.0 L500.0,439.0 L500.4,443.0 L499.6,447.0 L497.0,447.0 L493.0,445.0 L488.0,443.0 L483.0,441.0 L478.0,439.0 L474.0,437.0 L471.6,435.0Z" fill="#851910" stroke="#1c0403" stroke-width="0.95" stroke-linejoin="round"/>
<path d="M428.5,396.0 L430.0,397.2 L433.5,396.0 L436.5,393.5 L439.0,392.5 L441.5,394.0 L443.0,397.0 L444.5,400.5 L444.0,404.0 L443.0,407.5 L443.5,411.0 L443.0,414.5 L441.5,417.5 L439.0,418.5 L436.5,420.0 L434.0,421.5 L431.5,420.0 L430.0,418.0 L430.5,415.0 L431.5,411.5 L431.0,408.0 L431.5,405.0 L430.5,402.0 L429.0,399.5Z" fill="#851910" stroke="#1c0403" stroke-width="0.95" stroke-linejoin="round"/>
<path d="M433.5,378.0 L435.5,375.5 L438.5,373.5 L440.5,372.5 L441.2,371.0 L442.0,373.5 L442.2,377.0 L441.8,380.5 L441.0,384.0 L440.0,387.0 L438.5,389.5 L436.5,389.0 L435.0,386.5 L434.2,383.0 L433.8,380.0Z" fill="#851910" stroke="#1c0403" stroke-width="0.95" stroke-linejoin="round"/>
<path d="M560.7,424.6 L563.6,422.7 L567.9,421.6 L572.1,422.3 L576.4,423.1 L579.3,424.4 L581.4,426.0 L582.1,428.6 L580.7,429.3 L577.9,427.1 L576.4,428.6 L577.9,431.4 L579.3,435.0 L580.0,438.6 L577.9,438.3 L575.7,436.4 L573.6,434.3 L572.9,437.1 L572.1,439.7 L570.0,438.6 L567.9,435.7 L565.7,432.9 L563.6,430.0 L561.4,427.1 L560.4,425.0Z" fill="#851910" stroke="#1c0403" stroke-width="0.95" stroke-linejoin="round"/>
<path d="M678.6,436.4 L681.4,432.9 L685.0,430.7 L688.6,429.3 L692.1,427.1 L695.0,425.0 L697.9,422.6 L698.9,423.1 L697.1,425.7 L695.0,429.3 L695.7,431.4 L692.9,432.9 L691.4,435.7 L688.6,438.6 L685.0,440.0 L681.4,440.3 L679.3,438.6Z" fill="#851910" stroke="#1c0403" stroke-width="0.95" stroke-linejoin="round"/>
<path d="M508.6,175.0 L509.3,177.1 L507.1,180.7 L506.4,184.3 L504.3,187.9 L502.9,188.6 L502.6,185.0 L503.1,180.7 L505.0,177.9 L507.1,175.7Z" fill="#851910" stroke="#1c0403" stroke-width="0.95" stroke-linejoin="round"/>
<path d="M495.4,185.4 L496.0,186.0 L492.9,199.3 L492.1,199.0Z" fill="#851910" stroke="#1c0403" stroke-width="0.95" stroke-linejoin="round"/>
<path d="M526.4,167.1 L528.6,165.0 L532.1,163.6 L535.0,162.9 L534.3,165.0 L532.1,167.1 L529.3,168.6 L527.1,169.3Z" fill="#851910" stroke="#1c0403" stroke-width="0.95" stroke-linejoin="round"/>
<path d="M527.9,160.0 L530.0,158.6 L532.1,159.3 L531.4,161.4 L529.3,162.1Z" fill="#851910" stroke="#1c0403" stroke-width="0.95" stroke-linejoin="round"/>
<path d="M446.4,210.7 L450.7,210.0 L452.1,213.6 L450.7,216.9 L447.9,216.4 L445.7,213.6Z" fill="#851910" stroke="#1c0403" stroke-width="0.95" stroke-linejoin="round"/>
<path d="M461.4,203.6 L464.6,205.0 L465.0,208.6 L462.9,212.1 L461.4,215.7 L459.3,218.6 L456.4,217.1 L455.0,213.6 L454.6,208.6 L457.4,206.4 L460.0,205.0Z" fill="#851910" stroke="#1c0403" stroke-width="0.95" stroke-linejoin="round"/>
<path d="M480.7,213.6 L482.9,212.9 L483.9,215.0 L482.1,216.4 L480.7,215.4Z" fill="#851910" stroke="#1c0403" stroke-width="0.95" stroke-linejoin="round"/>
<path d="M371.2,408.8 L375.0,406.2 L380.0,407.0 L381.8,410.0 L378.8,413.0 L374.5,412.5Z" fill="#851910" stroke="#1c0403" stroke-width="0.95" stroke-linejoin="round"/>
<path d="M385.0,405.0 L388.8,404.5 L390.0,407.0 L387.0,407.5Z" fill="#851910" stroke="#1c0403" stroke-width="0.95" stroke-linejoin="round"/>
<path d="M358.8,415.5 L362.0,414.5 L363.0,418.0 L360.0,420.0Z" fill="#851910" stroke="#1c0403" stroke-width="0.95" stroke-linejoin="round"/>
<path d="M588.0,452.0 L591.0,450.0 L596.0,451.0 L601.0,450.6 L606.0,450.0 L611.0,450.6 L615.0,450.0 L617.0,451.0 L615.6,453.4 L611.0,454.6 L607.0,455.4 L603.0,456.0 L598.0,455.0 L593.0,455.4 L589.0,455.0Z" fill="#851910" stroke="#1c0403" stroke-width="0.95" stroke-linejoin="round"/>
<path d="M480.7,230.7 L484.3,228.6 L488.6,226.4 L492.9,224.3 L496.4,222.1 L497.9,220.0 L501.4,217.9 L506.4,216.4 L510.0,218.6 L511.4,221.4 L514.3,222.9 L516.4,223.6 L519.3,221.1 L524.3,220.3 L530.0,219.7 L535.7,218.9 L541.4,218.3 L544.3,217.9 L546.4,219.3 L548.6,222.1 L550.0,225.7 L551.7,230.0 L552.9,234.3 L552.1,237.9 L550.0,241.4 L549.3,243.6 L552.1,245.0 L553.6,248.6 L554.6,252.9 L555.7,257.1 L557.9,260.7 L559.3,264.3 L559.3,265.0 L557.9,269.3 L555.7,272.9 L553.6,276.4 L552.1,280.0 L551.4,283.1 L547.1,282.6 L542.9,281.4 L540.0,280.0 L538.9,277.1 L538.3,273.6 L536.4,271.4 L533.6,272.1 L530.0,271.4 L527.1,270.0 L525.7,267.9 L524.0,265.7 L521.4,264.3 L518.6,263.6 L516.4,264.3 L515.4,267.1 L514.3,270.7 L512.9,274.3 L510.7,275.7 L507.4,273.6 L504.3,272.1 L505.0,269.3 L506.4,265.7 L507.9,262.1 L506.9,259.3 L503.6,257.9 L499.3,257.1 L495.7,256.4 L491.4,258.6 L487.9,260.7 L484.3,257.9 L484.3,257.9 L484.0,253.6 L482.9,249.3 L480.7,245.7 L479.3,242.1 L481.1,237.9 L480.0,234.3Z" fill="#c6411c"/>
<path d="M524.3,301.4 L528.6,299.3 L532.9,297.1 L536.4,294.3 L540.7,292.9 L545.0,292.9 L547.1,294.3 L544.3,297.1 L541.4,300.0 L539.3,302.9 L536.4,305.0 L532.9,305.7 L529.3,304.3 L526.4,303.1Z" fill="#c6411c"/>
<path d="M605.0,310.0 L601.4,311.9 L597.1,312.9 L593.6,314.3 L591.4,316.4 L590.7,319.3 L589.3,321.4 L585.7,322.9 L581.4,324.3 L577.1,324.3 L572.9,325.7 L568.6,327.1 L564.3,329.3 L560.7,331.4 L559.3,335.0 L560.0,338.6 L557.9,341.4 L559.1,340.6 L563.4,344.0 L568.6,347.4 L576.3,348.3 L570.0,347.9 L577.1,347.1 L584.3,346.9 L591.4,344.3 L598.6,340.7 L605.7,338.9 L612.9,338.9 L616.0,338.6 L616.4,337.9 L616.4,334.3 L617.1,330.7 L618.6,327.1 L620.7,324.3 L622.1,321.4 L621.4,317.9 L619.3,316.7 L615.7,317.9 L612.1,318.6 L609.3,317.1 L607.1,314.3 L605.4,310.7Z" fill="#c6411c"/>
<path d="M497.9,220.0 L501.4,217.9 L506.4,216.4 L510.0,218.6 L511.4,221.4 L514.3,222.9 L516.4,224.3 L517.1,227.1 L515.0,230.0 L511.4,230.7 L507.9,230.0 L504.3,231.4 L500.7,232.9 L499.3,230.0 L498.3,226.4 L497.4,222.9Z" fill="#851910"/>
<path d="M519.3,243.6 L520.7,239.3 L523.6,236.4 L527.9,234.3 L531.4,231.4 L534.3,231.4 L536.0,234.3 L538.6,236.4 L541.4,238.6 L544.3,241.4 L547.9,243.6 L545.0,245.7 L541.4,247.4 L540.0,250.0 L540.7,253.6 L540.0,257.1 L538.3,259.3 L534.3,259.3 L531.4,257.9 L529.7,254.3 L530.0,250.7 L527.9,247.9 L524.3,246.4 L520.7,245.7Z" fill="#851910"/>
<path d="M511.4,7.1 L512.3,11.1 L513.0,14.7 L514.0,11.4 L515.1,6.9Z" fill="#ffffff" stroke="#1c0403" stroke-width="0.5" stroke-linejoin="round"/>
<path d="M412.1,327.9 L413.6,324.3 L416.4,320.7 L418.6,317.1 L421.4,314.3 L425.7,312.9 L430.0,312.1 L434.3,310.7 L437.9,311.4 L441.4,312.1 L442.9,315.0 L444.3,317.9 L447.1,319.3 L450.0,320.7 L450.3,323.6 L447.9,325.7 L445.0,326.4 L442.1,327.1 L440.0,330.0 L437.9,332.9 L435.0,331.4 L432.1,329.3 L429.3,330.0 L426.4,331.4 L422.9,332.1 L420.0,331.4 L417.9,328.6 L415.0,327.9Z" fill="#e4e4e4" stroke="#1c0403" stroke-width="0.5" stroke-linejoin="round"/>
<path d="M480.7,245.7 L484.3,244.3 L488.6,243.1 L492.9,242.6 L496.4,240.7 L499.3,237.1 L500.7,232.9" fill="none" stroke="#a8744f" stroke-width="0.55" stroke-linejoin="round" stroke-linecap="round"/>
<path d="M496.4,240.7 L498.6,244.3 L502.1,246.4 L506.4,245.7 L510.7,245.0 L515.0,246.4 L519.3,244.3" fill="none" stroke="#a8744f" stroke-width="0.55" stroke-linejoin="round" stroke-linecap="round"/>
<path d="M517.1,227.1 L520.0,230.0 L519.3,233.6 L520.7,237.9 L520.7,239.3" fill="none" stroke="#a8744f" stroke-width="0.55" stroke-linejoin="round" stroke-linecap="round"/>
<path d="M534.3,231.4 L537.1,227.1 L538.6,223.6 L541.4,221.4 L544.3,217.9" fill="none" stroke="#a8744f" stroke-width="0.55" stroke-linejoin="round" stroke-linecap="round"/>
<path d="M515.0,246.4 L514.3,250.7 L515.7,254.3 L513.6,257.9 L512.9,261.4 L507.9,262.9" fill="none" stroke="#a8744f" stroke-width="0.55" stroke-linejoin="round" stroke-linecap="round"/>
<path d="M515.7,254.3 L520.0,255.0 L524.3,253.6 L529.7,254.3" fill="none" stroke="#a8744f" stroke-width="0.55" stroke-linejoin="round" stroke-linecap="round"/>
<path d="M531.4,257.9 L528.6,260.0 L527.1,263.6 L528.6,267.1 L527.1,269.3" fill="none" stroke="#a8744f" stroke-width="0.55" stroke-linejoin="round" stroke-linecap="round"/>
<path d="M484.3,244.3 L485.7,248.6 L488.6,252.1 L491.4,255.7 L491.4,259.3" fill="none" stroke="#a8744f" stroke-width="0.55" stroke-linejoin="round" stroke-linecap="round"/>
<path d="M538.3,259.3 L541.4,261.4 L545.7,263.6 L550.0,265.7 L554.3,267.1 L556.4,270.0" fill="none" stroke="#a8744f" stroke-width="0.55" stroke-linejoin="round" stroke-linecap="round"/>
<path d="M538.3,259.3 L538.6,262.9 L537.9,266.4 L538.6,270.0 L537.9,272.9" fill="none" stroke="#a8744f" stroke-width="0.55" stroke-linejoin="round" stroke-linecap="round"/>
<path d="M547.9,243.6 L550.0,242.1 L552.1,245.0" fill="none" stroke="#a8744f" stroke-width="0.55" stroke-linejoin="round" stroke-linecap="round"/>
<path d="M473.0,42.4 L479.0,42.0 L485.0,43.6" fill="none" stroke="#9c6f68" stroke-width="0.5" stroke-linejoin="round" stroke-linecap="round"/>
<path d="M457.1,90.7 L461.4,89.3 L465.7,88.3 L469.3,88.6 L472.9,91.4 L477.1,94.3 L481.4,97.9 L485.7,100.0 L490.7,101.4 L495.7,102.1 L499.3,105.0 L501.4,107.1" fill="none" stroke="#9c6f68" stroke-width="0.5" stroke-linejoin="round" stroke-linecap="round"/>
<path d="M440.7,110.7 L441.4,115.7 L440.7,120.0 L443.6,122.9 L447.1,120.7 L450.7,119.3 L454.3,120.7 L457.1,122.9 L460.0,124.3 L464.3,126.4 L467.1,129.3 L470.0,132.1 L473.6,130.7 L477.1,127.9 L479.3,124.3 L482.9,122.9 L487.1,122.9 L491.4,122.9" fill="none" stroke="#9c6f68" stroke-width="0.5" stroke-linejoin="round" stroke-linecap="round"/>
<path d="M420.0,123.6 L424.3,125.7 L428.6,127.9 L431.4,128.6 L435.0,125.7 L438.6,123.6 L443.6,122.9" fill="none" stroke="#9c6f68" stroke-width="0.5" stroke-linejoin="round" stroke-linecap="round"/>
<path d="M431.4,128.6 L432.9,132.9 L435.0,137.1 L433.6,141.4 L431.4,145.7 L430.0,150.0" fill="none" stroke="#9c6f68" stroke-width="0.5" stroke-linejoin="round" stroke-linecap="round"/>
<path d="M435.0,137.1 L438.6,140.0 L442.9,142.9 L446.4,145.0 L450.0,147.1 L452.9,145.7 L457.1,147.9 L460.0,150.0" fill="none" stroke="#9c6f68" stroke-width="0.5" stroke-linejoin="round" stroke-linecap="round"/>
<path d="M519.3,97.9 L522.1,99.3 L525.0,102.1 L527.9,104.3 L530.7,102.1 L532.9,99.3 L536.4,98.6 L538.6,100.7 L540.0,105.0 L542.1,108.6 L543.6,112.9 L544.3,117.1 L545.0,120.0" fill="none" stroke="#9c6f68" stroke-width="0.5" stroke-linejoin="round" stroke-linecap="round"/>
<path d="M490.0,100.0 L493.6,100.7 L496.4,102.9 L498.6,105.7 L499.3,110.0" fill="none" stroke="#9c6f68" stroke-width="0.5" stroke-linejoin="round" stroke-linecap="round"/>
<path d="M522.9,97.9 L525.7,100.7 L528.6,103.6 L531.4,102.1 L532.9,99.3 L536.4,98.6 L538.6,100.0 L540.0,103.6 L542.1,107.1 L544.3,111.4 L545.0,115.7 L544.3,119.3 L545.7,122.9 L548.6,125.7 L551.4,126.4 L554.3,123.6 L557.9,120.7 L561.4,117.9 L565.0,114.3" fill="none" stroke="#9c6f68" stroke-width="0.5" stroke-linejoin="round" stroke-linecap="round"/>
<path d="M544.3,119.3 L540.7,122.1 L537.9,125.7 L535.0,128.6 L532.9,131.4 L529.3,132.9 L525.7,134.3 L522.1,135.0 L517.9,135.0" fill="none" stroke="#9c6f68" stroke-width="0.5" stroke-linejoin="round" stroke-linecap="round"/>
<path d="M532.9,131.4 L533.6,135.7 L532.4,140.0 L531.4,143.6" fill="none" stroke="#9c6f68" stroke-width="0.5" stroke-linejoin="round" stroke-linecap="round"/>
<path d="M533.6,135.7 L537.9,134.3 L542.1,132.9 L546.4,132.1 L550.0,134.3" fill="none" stroke="#9c6f68" stroke-width="0.5" stroke-linejoin="round" stroke-linecap="round"/>
<path d="M434.3,137.9 L432.9,142.1 L431.4,146.4 L430.7,150.7 L427.9,155.0 L425.0,157.9 L422.1,158.6 L418.6,160.0" fill="none" stroke="#9c6f68" stroke-width="0.5" stroke-linejoin="round" stroke-linecap="round"/>
<path d="M427.9,155.0 L429.3,159.3 L430.7,163.6 L433.6,167.1 L437.1,169.3 L440.7,171.4" fill="none" stroke="#9c6f68" stroke-width="0.5" stroke-linejoin="round" stroke-linecap="round"/>
<path d="M425.0,157.9 L424.3,162.1 L423.6,166.4 L423.6,170.7 L424.3,175.0" fill="none" stroke="#9c6f68" stroke-width="0.5" stroke-linejoin="round" stroke-linecap="round"/>
<path d="M434.3,137.9 L438.6,140.7 L442.9,143.6 L446.4,146.4 L450.0,148.6 L452.9,146.4 L455.7,147.9 L457.9,152.1" fill="none" stroke="#9c6f68" stroke-width="0.5" stroke-linejoin="round" stroke-linecap="round"/>
<path d="M450.0,148.6 L450.7,152.9 L450.0,157.1 L449.3,160.7 L450.7,162.9" fill="none" stroke="#9c6f68" stroke-width="0.5" stroke-linejoin="round" stroke-linecap="round"/>
<path d="M430.7,150.7 L435.0,150.0 L439.3,151.4 L442.9,153.6 L446.4,155.7 L450.0,157.1" fill="none" stroke="#9c6f68" stroke-width="0.5" stroke-linejoin="round" stroke-linecap="round"/>
<path d="M459.3,162.9 L463.6,164.3 L467.1,165.7 L470.0,166.4 L473.6,165.0 L475.0,160.7 L475.7,156.4 L475.0,152.9 L478.6,152.1 L482.9,150.7 L487.1,148.6 L490.7,146.4 L494.3,145.0" fill="none" stroke="#9c6f68" stroke-width="0.5" stroke-linejoin="round" stroke-linecap="round"/>
<path d="M473.6,165.0 L475.7,169.3 L477.1,173.6 L476.4,176.4 L472.9,178.6 L471.4,182.1 L470.0,186.4 L468.6,190.7 L469.3,194.3 L470.0,197.9" fill="none" stroke="#9c6f68" stroke-width="0.5" stroke-linejoin="round" stroke-linecap="round"/>
<path d="M476.4,176.4 L480.7,177.9 L485.0,177.1 L489.3,175.7 L492.9,175.7" fill="none" stroke="#9c6f68" stroke-width="0.5" stroke-linejoin="round" stroke-linecap="round"/>
<path d="M495.7,167.1 L495.4,162.9 L495.7,158.6 L497.9,155.0 L501.4,152.1" fill="none" stroke="#9c6f68" stroke-width="0.5" stroke-linejoin="round" stroke-linecap="round"/>
<path d="M470.0,197.9 L474.3,197.9 L478.6,197.1 L482.9,197.9 L487.1,197.9" fill="none" stroke="#9c6f68" stroke-width="0.5" stroke-linejoin="round" stroke-linecap="round"/>
<path d="M566.0,201.0 L564.5,200.0 L562.0,201.0 L559.5,202.0 L557.0,202.5 L555.0,201.0 L553.5,199.5 L551.0,200.0 L551.5,203.0 L552.8,205.5 L553.5,208.5 L552.8,211.0 L554.0,213.0 L557.0,213.5 L560.0,214.0" fill="none" stroke="#9c6f68" stroke-width="0.5" stroke-linejoin="round" stroke-linecap="round"/>
<path d="M435.7,232.9 L439.3,235.0 L442.9,236.4 L445.7,237.1 L448.6,235.7 L451.4,234.3 L453.6,232.1 L454.3,229.3" fill="none" stroke="#9c6f68" stroke-width="0.5" stroke-linejoin="round" stroke-linecap="round"/>
<path d="M448.6,235.7 L452.1,237.9 L456.4,239.3 L460.7,238.6 L465.0,240.0 L469.3,238.6 L473.6,237.1 L477.9,238.6 L480.0,239.3" fill="none" stroke="#9c6f68" stroke-width="0.5" stroke-linejoin="round" stroke-linecap="round"/>
<path d="M452.1,237.9 L452.9,242.1 L452.1,246.4 L453.6,250.7 L452.9,255.0" fill="none" stroke="#9c6f68" stroke-width="0.5" stroke-linejoin="round" stroke-linecap="round"/>
<path d="M465.0,240.0 L464.3,244.3 L465.0,248.6 L463.6,252.9 L462.9,255.0" fill="none" stroke="#9c6f68" stroke-width="0.5" stroke-linejoin="round" stroke-linecap="round"/>
<path d="M436.4,200.7 L440.7,201.9 L444.3,201.0 L447.9,201.9" fill="none" stroke="#9c6f68" stroke-width="0.5" stroke-linejoin="round" stroke-linecap="round"/>
<path d="M434.7,213.6 L438.6,214.3 L442.1,215.7 L443.3,218.6" fill="none" stroke="#9c6f68" stroke-width="0.5" stroke-linejoin="round" stroke-linecap="round"/>
<path d="M422.1,247.9 L425.7,249.3 L430.0,250.7 L433.6,249.3 L437.1,250.7 L439.3,253.6 L440.7,257.1 L442.1,260.0" fill="none" stroke="#9c6f68" stroke-width="0.5" stroke-linejoin="round" stroke-linecap="round"/>
<path d="M452.9,235.0 L452.9,240.0 L452.9,245.0 L452.1,249.3 L451.4,253.6 L452.1,257.9 L450.0,260.7 L446.4,262.1 L442.9,260.7 L442.1,260.0" fill="none" stroke="#9c6f68" stroke-width="0.5" stroke-linejoin="round" stroke-linecap="round"/>
<path d="M442.1,260.0 L439.3,262.9 L436.4,265.7 L433.6,268.6 L430.7,270.7 L429.3,273.6 L425.7,272.9 L422.9,274.3 L420.0,276.4 L417.1,277.9" fill="none" stroke="#9c6f68" stroke-width="0.5" stroke-linejoin="round" stroke-linecap="round"/>
<path d="M446.4,262.1 L447.1,265.7 L446.4,270.0 L447.9,273.6 L445.7,276.4 L442.9,277.9 L440.7,280.7 L437.9,282.1 L435.7,285.0 L432.9,284.3 L430.7,282.1 L429.3,277.9 L429.3,273.6" fill="none" stroke="#9c6f68" stroke-width="0.5" stroke-linejoin="round" stroke-linecap="round"/>
<path d="M452.1,257.9 L456.4,259.3 L460.7,260.7 L465.0,260.0 L466.4,263.6 L465.7,267.9 L463.6,270.7 L460.0,272.1 L456.4,274.3 L452.9,275.7 L450.0,274.3 L447.9,273.6" fill="none" stroke="#9c6f68" stroke-width="0.5" stroke-linejoin="round" stroke-linecap="round"/>
<path d="M465.0,260.0 L469.3,259.3 L473.6,260.7 L477.9,261.4 L482.1,262.9 L484.7,263.6" fill="none" stroke="#9c6f68" stroke-width="0.5" stroke-linejoin="round" stroke-linecap="round"/>
<path d="M452.9,245.0 L457.1,243.6 L461.4,242.9 L463.6,245.7 L462.9,250.0 L464.3,254.3 L465.0,260.0" fill="none" stroke="#9c6f68" stroke-width="0.5" stroke-linejoin="round" stroke-linecap="round"/>
<path d="M457.1,243.6 L460.7,240.7 L465.0,239.3 L469.3,240.0 L473.6,237.9 L477.9,238.6 L481.4,239.3" fill="none" stroke="#9c6f68" stroke-width="0.5" stroke-linejoin="round" stroke-linecap="round"/>
<path d="M435.7,285.0 L437.9,288.6 L440.0,292.1 L443.6,294.3 L445.0,297.9 L444.3,302.1 L445.0,305.0" fill="none" stroke="#9c6f68" stroke-width="0.5" stroke-linejoin="round" stroke-linecap="round"/>
<path d="M432.9,284.3 L431.4,287.1 L430.0,289.3" fill="none" stroke="#9c6f68" stroke-width="0.5" stroke-linejoin="round" stroke-linecap="round"/>
<path d="M418.6,284.3 L420.0,287.1 L422.9,287.9 L423.6,285.7" fill="none" stroke="#9c6f68" stroke-width="0.5" stroke-linejoin="round" stroke-linecap="round"/>
<path d="M472.9,272.9 L474.3,276.4 L477.1,278.6 L480.7,277.9 L483.6,275.7 L486.4,273.6 L488.6,271.4 L487.9,268.6" fill="none" stroke="#9c6f68" stroke-width="0.5" stroke-linejoin="round" stroke-linecap="round"/>
<path d="M477.1,278.6 L477.9,282.9 L480.7,285.0 L484.3,284.3 L487.1,285.7 L488.6,283.6" fill="none" stroke="#9c6f68" stroke-width="0.5" stroke-linejoin="round" stroke-linecap="round"/>
<path d="M403.6,243.6 L407.1,245.0 L410.7,244.3 L414.3,245.7 L417.9,245.0 L421.4,244.3" fill="none" stroke="#9c6f68" stroke-width="0.5" stroke-linejoin="round" stroke-linecap="round"/>
<path d="M407.1,245.0 L406.4,249.3 L408.6,252.9 L412.1,253.6 L416.4,252.9 L420.0,251.4" fill="none" stroke="#9c6f68" stroke-width="0.5" stroke-linejoin="round" stroke-linecap="round"/>
<path d="M400.7,253.6 L404.3,254.3 L408.6,252.9" fill="none" stroke="#9c6f68" stroke-width="0.5" stroke-linejoin="round" stroke-linecap="round"/>
<path d="M402.9,257.9 L403.6,261.4 L402.1,265.0 L400.0,267.1 L403.6,268.6 L407.9,269.3 L411.4,270.0 L415.0,271.4" fill="none" stroke="#9c6f68" stroke-width="0.5" stroke-linejoin="round" stroke-linecap="round"/>
<path d="M407.1,258.6 L407.9,262.9 L410.7,265.0 L413.6,264.3 L416.4,264.3" fill="none" stroke="#9c6f68" stroke-width="0.5" stroke-linejoin="round" stroke-linecap="round"/>
<path d="M403.6,268.6 L405.0,272.1 L404.3,276.4" fill="none" stroke="#9c6f68" stroke-width="0.5" stroke-linejoin="round" stroke-linecap="round"/>
<path d="M378.3,272.9 L378.6,277.9 L377.9,282.9 L376.4,287.9 L380.0,287.1 L384.3,287.9 L388.6,289.3 L391.4,291.4 L394.3,288.6 L397.1,285.0 L398.6,281.4 L397.9,277.1 L397.9,273.6" fill="none" stroke="#9c6f68" stroke-width="0.5" stroke-linejoin="round" stroke-linecap="round"/>
<path d="M376.4,287.9 L375.0,291.4 L376.4,295.7 L379.3,299.3 L383.6,300.0 L387.1,298.6 L390.0,295.7 L391.4,291.4" fill="none" stroke="#9c6f68" stroke-width="0.5" stroke-linejoin="round" stroke-linecap="round"/>
<path d="M350.0,289.3 L354.3,291.4 L358.6,292.9 L362.9,293.6 L367.1,294.3 L370.0,292.9 L375.0,291.4" fill="none" stroke="#9c6f68" stroke-width="0.5" stroke-linejoin="round" stroke-linecap="round"/>
<path d="M352.9,291.4 L352.1,297.1 L350.0,300.7 L345.7,302.9 L341.4,305.0 L339.3,305.0" fill="none" stroke="#9c6f68" stroke-width="0.5" stroke-linejoin="round" stroke-linecap="round"/>
<path d="M367.1,294.3 L367.9,298.6 L366.4,302.9 L362.9,305.7 L360.7,308.6 L361.4,312.1 L357.1,312.9 L352.9,312.1 L351.4,315.7 L352.1,320.0" fill="none" stroke="#9c6f68" stroke-width="0.5" stroke-linejoin="round" stroke-linecap="round"/>
<path d="M383.6,300.0 L385.7,303.6 L384.3,307.1 L385.0,311.4 L383.6,315.7 L384.3,320.0" fill="none" stroke="#9c6f68" stroke-width="0.5" stroke-linejoin="round" stroke-linecap="round"/>
<path d="M390.0,295.7 L392.9,299.3 L396.4,302.1 L400.0,305.0 L404.3,306.4 L408.6,307.9 L412.9,306.4 L417.1,305.0 L420.0,304.3" fill="none" stroke="#9c6f68" stroke-width="0.5" stroke-linejoin="round" stroke-linecap="round"/>
<path d="M344.3,317.9 L348.6,317.1 L352.1,315.7 L353.6,312.9 L355.0,310.0" fill="none" stroke="#9c6f68" stroke-width="0.5" stroke-linejoin="round" stroke-linecap="round"/>
<path d="M360.7,310.0 L362.9,313.6 L365.0,317.1 L367.9,320.7 L371.4,322.9 L375.7,323.6 L379.3,322.9 L382.1,320.0 L385.0,317.9 L385.7,314.3 L385.0,310.0" fill="none" stroke="#9c6f68" stroke-width="0.5" stroke-linejoin="round" stroke-linecap="round"/>
<path d="M385.0,317.9 L388.6,320.0 L392.1,323.6 L395.7,325.7 L400.0,325.0 L404.3,323.6 L407.9,325.0 L411.4,326.4" fill="none" stroke="#9c6f68" stroke-width="0.5" stroke-linejoin="round" stroke-linecap="round"/>
<path d="M379.3,322.9 L380.7,327.1 L380.0,331.4 L378.6,335.7 L376.4,339.3 L375.0,342.1 L372.1,340.0 L369.3,340.7 L367.1,343.6 L365.0,346.4 L362.9,349.3 L360.0,350.7 L356.4,351.4 L353.6,352.9 L352.1,357.1 L351.4,361.4 L350.7,366.0" fill="none" stroke="#9c6f68" stroke-width="0.5" stroke-linejoin="round" stroke-linecap="round"/>
<path d="M375.0,342.1 L376.4,345.0 L379.3,343.6 L381.4,342.1 L384.3,344.3 L387.1,342.9 L390.0,345.0 L392.1,347.9 L393.6,350.7 L397.1,351.4 L398.6,354.3 L397.1,357.9 L395.0,360.0 L392.9,361.7" fill="none" stroke="#9c6f68" stroke-width="0.5" stroke-linejoin="round" stroke-linecap="round"/>
<path d="M397.1,351.4 L400.7,350.7 L403.6,352.9 L406.4,350.7 L408.6,347.9 L411.4,345.7 L414.3,343.6 L416.4,343.6" fill="none" stroke="#9c6f68" stroke-width="0.5" stroke-linejoin="round" stroke-linecap="round"/>
<path d="M288.0,346.0 L289.0,352.0 L288.0,358.0 L289.0,364.0 L289.0,368.0" fill="none" stroke="#9c6f68" stroke-width="0.5" stroke-linejoin="round" stroke-linecap="round"/>
<path d="M289.0,352.0 L295.0,353.0 L301.0,354.0 L307.0,355.0 L312.0,354.0 L317.0,355.0 L321.0,357.0 L325.0,359.0 L329.0,361.0 L334.0,360.0 L338.0,359.0 L340.0,358.0" fill="none" stroke="#9c6f68" stroke-width="0.5" stroke-linejoin="round" stroke-linecap="round"/>
<path d="M325.0,359.0 L324.0,364.0 L323.0,368.0 L326.0,371.0 L330.0,372.0 L334.0,371.0 L336.0,368.0 L333.0,365.0 L329.0,364.0 L327.0,362.0" fill="none" stroke="#9c6f68" stroke-width="0.5" stroke-linejoin="round" stroke-linecap="round"/>
<path d="M334.0,371.0 L333.0,376.0 L331.0,380.0 L329.0,384.0 L325.0,383.0 L320.0,381.0 L315.0,382.0 L311.0,385.0 L308.0,389.0 L306.0,392.0 L311.0,395.0 L316.0,396.0 L319.0,393.0 L318.0,388.0 L315.0,382.0" fill="none" stroke="#9c6f68" stroke-width="0.5" stroke-linejoin="round" stroke-linecap="round"/>
<path d="M306.0,392.0 L301.0,393.0 L296.0,392.0 L292.0,389.0 L288.0,386.0 L283.0,385.0" fill="none" stroke="#9c6f68" stroke-width="0.5" stroke-linejoin="round" stroke-linecap="round"/>
<path d="M296.0,392.0 L297.0,397.0 L299.0,402.0 L298.0,407.0 L295.0,410.0 L290.0,412.0 L285.0,415.0 L280.0,416.0 L275.0,415.0" fill="none" stroke="#9c6f68" stroke-width="0.5" stroke-linejoin="round" stroke-linecap="round"/>
<path d="M295.0,410.0 L300.0,412.0 L306.0,414.0 L312.0,416.0 L318.0,417.0 L324.0,419.0 L329.0,418.0 L334.0,416.0" fill="none" stroke="#9c6f68" stroke-width="0.5" stroke-linejoin="round" stroke-linecap="round"/>
<path d="M324.0,419.0 L323.0,424.0 L326.0,427.0 L330.0,426.0 L334.0,423.0 L336.0,419.0 L334.0,416.0 L333.0,411.0 L334.0,406.0 L336.0,402.0 L338.0,398.0 L341.0,395.0 L346.0,394.0 L350.0,393.0 L352.0,390.0" fill="none" stroke="#9c6f68" stroke-width="0.5" stroke-linejoin="round" stroke-linecap="round"/>
<path d="M360.0,369.0 L359.0,374.0 L357.0,379.0 L355.0,384.0 L354.0,389.0 L352.0,393.0" fill="none" stroke="#9c6f68" stroke-width="0.5" stroke-linejoin="round" stroke-linecap="round"/>
<path d="M336.0,368.0 L338.0,373.0 L336.0,378.0 L333.0,382.0 L331.0,385.0 L332.0,390.0 L335.0,394.0 L338.0,398.0" fill="none" stroke="#9c6f68" stroke-width="0.5" stroke-linejoin="round" stroke-linecap="round"/>
<path d="M265.0,375.0 L270.0,376.0 L275.0,374.0 L280.0,375.0 L285.0,378.0" fill="none" stroke="#9c6f68" stroke-width="0.5" stroke-linejoin="round" stroke-linecap="round"/>
<path d="M261.0,393.0 L266.0,392.0 L271.0,394.0 L276.0,395.0" fill="none" stroke="#9c6f68" stroke-width="0.5" stroke-linejoin="round" stroke-linecap="round"/>
<path d="M258.0,411.0 L263.0,412.0 L268.0,410.0 L274.0,410.0" fill="none" stroke="#9c6f68" stroke-width="0.5" stroke-linejoin="round" stroke-linecap="round"/>
<path d="M437.9,332.9 L438.6,336.4 L437.9,340.0 L439.3,343.6 L441.4,346.4 L440.7,348.6" fill="none" stroke="#9c6f68" stroke-width="0.5" stroke-linejoin="round" stroke-linecap="round"/>
<path d="M418.6,349.3 L422.9,347.9 L427.1,346.4 L431.4,347.1 L435.0,348.6 L437.9,350.0 L440.7,348.6 L444.3,350.0 L448.6,351.4 L452.9,353.6 L457.1,355.0 L461.4,356.4 L465.0,358.6" fill="none" stroke="#9c6f68" stroke-width="0.5" stroke-linejoin="round" stroke-linecap="round"/>
<path d="M450.3,323.6 L451.4,327.1 L450.7,330.7 L452.1,334.3 L455.0,336.4 L457.1,339.3 L456.4,342.1" fill="none" stroke="#9c6f68" stroke-width="0.5" stroke-linejoin="round" stroke-linecap="round"/>
<path d="M453.6,321.4 L455.0,325.0 L457.9,327.1 L460.7,325.7 L463.6,323.6 L465.7,319.3" fill="none" stroke="#9c6f68" stroke-width="0.5" stroke-linejoin="round" stroke-linecap="round"/>
<path d="M441.4,346.4 L445.7,345.0 L450.0,344.3 L454.3,345.0 L458.6,344.3 L462.9,345.0 L466.4,343.6" fill="none" stroke="#9c6f68" stroke-width="0.5" stroke-linejoin="round" stroke-linecap="round"/>
<path d="M470.0,320.7 L470.7,325.0 L469.3,328.6 L470.7,332.1 L472.1,336.4" fill="none" stroke="#9c6f68" stroke-width="0.5" stroke-linejoin="round" stroke-linecap="round"/>
<path d="M450.0,312.1 L451.4,316.4 L450.3,320.7" fill="none" stroke="#9c6f68" stroke-width="0.5" stroke-linejoin="round" stroke-linecap="round"/>
<path d="M466.4,310.0 L467.1,314.3 L465.7,319.3" fill="none" stroke="#9c6f68" stroke-width="0.5" stroke-linejoin="round" stroke-linecap="round"/>
<path d="M471.4,305.7 L473.6,309.3 L475.7,312.9 L474.3,316.4 L473.6,322.1" fill="none" stroke="#9c6f68" stroke-width="0.5" stroke-linejoin="round" stroke-linecap="round"/>
<path d="M475.7,312.9 L480.0,312.1 L484.3,311.4 L488.6,310.0 L492.9,310.7 L497.1,310.0 L500.0,310.7" fill="none" stroke="#9c6f68" stroke-width="0.5" stroke-linejoin="round" stroke-linecap="round"/>
<path d="M487.1,294.3 L486.4,298.6 L487.9,302.9 L488.6,310.0" fill="none" stroke="#9c6f68" stroke-width="0.5" stroke-linejoin="round" stroke-linecap="round"/>
<path d="M449.3,290.0 L450.0,294.3 L448.6,298.6 L447.1,302.9 L445.7,307.1 L444.3,311.4 L442.9,313.6" fill="none" stroke="#9c6f68" stroke-width="0.5" stroke-linejoin="round" stroke-linecap="round"/>
<path d="M483.6,275.0 L485.0,279.3 L487.9,282.1 L492.1,281.4 L496.4,282.9 L500.0,280.7 L503.6,278.6" fill="none" stroke="#9c6f68" stroke-width="0.5" stroke-linejoin="round" stroke-linecap="round"/>
<path d="M487.9,282.1 L487.1,286.4 L487.9,290.0" fill="none" stroke="#9c6f68" stroke-width="0.5" stroke-linejoin="round" stroke-linecap="round"/>
<path d="M496.4,282.9 L497.9,287.1 L496.4,293.6" fill="none" stroke="#9c6f68" stroke-width="0.5" stroke-linejoin="round" stroke-linecap="round"/>
<path d="M500.0,280.7 L504.3,285.0 L508.6,286.4 L513.6,291.4" fill="none" stroke="#9c6f68" stroke-width="0.5" stroke-linejoin="round" stroke-linecap="round"/>
<path d="M513.6,291.4 L517.9,292.9 L522.1,292.1 L524.3,295.0 L523.6,298.6 L523.6,302.1" fill="none" stroke="#9c6f68" stroke-width="0.5" stroke-linejoin="round" stroke-linecap="round"/>
<path d="M529.3,285.0 L530.0,289.3 L531.4,293.6 L531.4,297.1" fill="none" stroke="#9c6f68" stroke-width="0.5" stroke-linejoin="round" stroke-linecap="round"/>
<path d="M540.7,281.4 L540.0,286.4 L539.3,293.3" fill="none" stroke="#9c6f68" stroke-width="0.5" stroke-linejoin="round" stroke-linecap="round"/>
<path d="M520.7,301.4 L520.0,305.7 L517.9,310.0 L515.0,312.9 L510.7,315.0 L506.4,316.4 L501.4,314.3" fill="none" stroke="#9c6f68" stroke-width="0.5" stroke-linejoin="round" stroke-linecap="round"/>
<path d="M517.9,310.0 L522.1,312.1 L525.7,314.3 L525.0,317.9 L524.3,322.1 L523.6,326.4 L523.6,330.0" fill="none" stroke="#9c6f68" stroke-width="0.5" stroke-linejoin="round" stroke-linecap="round"/>
<path d="M525.7,314.3 L530.0,313.6 L534.3,312.9 L537.9,310.7 L540.7,308.6 L538.6,303.6" fill="none" stroke="#9c6f68" stroke-width="0.5" stroke-linejoin="round" stroke-linecap="round"/>
<path d="M534.3,312.9 L535.0,317.1 L537.9,320.7 L541.4,322.9 L543.6,323.6" fill="none" stroke="#9c6f68" stroke-width="0.5" stroke-linejoin="round" stroke-linecap="round"/>
<path d="M510.7,315.0 L510.0,319.3 L511.4,323.6 L511.4,329.3" fill="none" stroke="#9c6f68" stroke-width="0.5" stroke-linejoin="round" stroke-linecap="round"/>
<path d="M483.6,290.7 L484.3,295.0 L482.9,299.3 L485.0,302.9 L489.3,303.6 L493.6,304.3 L498.6,305.0 L503.6,307.1" fill="none" stroke="#9c6f68" stroke-width="0.5" stroke-linejoin="round" stroke-linecap="round"/>
<path d="M489.3,303.6 L488.6,307.9 L487.1,312.1 L489.3,315.7 L493.6,317.1 L498.6,320.7" fill="none" stroke="#9c6f68" stroke-width="0.5" stroke-linejoin="round" stroke-linecap="round"/>
<path d="M552.9,295.0 L556.4,297.9 L560.7,300.0 L565.7,299.3 L570.0,301.4 L575.0,300.7" fill="none" stroke="#9c6f68" stroke-width="0.5" stroke-linejoin="round" stroke-linecap="round"/>
<path d="M547.9,307.9 L552.1,310.0 L556.4,311.4 L560.7,310.7 L565.0,312.9 L568.6,315.7 L570.0,320.7 L567.9,327.9" fill="none" stroke="#9c6f68" stroke-width="0.5" stroke-linejoin="round" stroke-linecap="round"/>
<path d="M560.7,300.0 L561.4,305.0 L560.7,310.7" fill="none" stroke="#9c6f68" stroke-width="0.5" stroke-linejoin="round" stroke-linecap="round"/>
<path d="M577.1,324.3 L577.9,328.6 L576.9,332.9 L578.6,337.1 L580.7,341.4 L581.4,346.4" fill="none" stroke="#9c6f68" stroke-width="0.5" stroke-linejoin="round" stroke-linecap="round"/>
<path d="M595.0,328.6 L598.6,327.9 L602.9,328.6 L607.1,327.9 L609.3,330.7 L608.6,335.0 L607.1,337.9" fill="none" stroke="#9c6f68" stroke-width="0.5" stroke-linejoin="round" stroke-linecap="round"/>
<path d="M542.1,308.6 L545.7,310.7 L548.6,314.3 L552.9,315.7 L557.1,317.1 L561.4,315.0 L565.7,313.6 L570.0,311.4 L573.6,308.6 L575.7,305.0 L574.3,301.4 L573.6,300.0" fill="none" stroke="#9c6f68" stroke-width="0.5" stroke-linejoin="round" stroke-linecap="round"/>
<path d="M557.1,317.1 L560.0,321.4 L563.6,325.7 L566.4,327.9 L568.6,327.1" fill="none" stroke="#9c6f68" stroke-width="0.5" stroke-linejoin="round" stroke-linecap="round"/>
<path d="M573.6,308.6 L578.6,306.4 L582.9,305.7 L585.7,308.6 L588.6,312.9 L590.7,317.1" fill="none" stroke="#9c6f68" stroke-width="0.5" stroke-linejoin="round" stroke-linecap="round"/>
<path d="M574.3,347.9 L575.7,352.1 L577.9,355.7 L580.7,358.6 L579.3,362.9 L577.9,366.4 L577.1,370.0" fill="none" stroke="#9c6f68" stroke-width="0.5" stroke-linejoin="round" stroke-linecap="round"/>
<path d="M587.1,345.4 L586.4,350.0 L585.0,354.3 L585.7,358.6 L587.9,362.1 L590.0,365.0 L592.9,367.1" fill="none" stroke="#9c6f68" stroke-width="0.5" stroke-linejoin="round" stroke-linecap="round"/>
<path d="M597.9,339.7 L596.4,344.3 L595.0,348.6 L593.6,352.1 L597.1,353.6 L601.4,352.9 L605.7,351.4 L610.0,350.7 L612.9,352.1" fill="none" stroke="#9c6f68" stroke-width="0.5" stroke-linejoin="round" stroke-linecap="round"/>
<path d="M580.7,358.6 L585.7,358.6 L590.0,354.3 L593.6,352.1" fill="none" stroke="#9c6f68" stroke-width="0.5" stroke-linejoin="round" stroke-linecap="round"/>
<path d="M587.9,362.1 L592.9,360.7 L597.9,359.3 L602.9,357.1 L607.1,355.7 L612.6,355.7" fill="none" stroke="#9c6f68" stroke-width="0.5" stroke-linejoin="round" stroke-linecap="round"/>
<path d="M601.4,338.6 L602.9,342.9 L604.3,347.1 L605.7,351.4" fill="none" stroke="#9c6f68" stroke-width="0.5" stroke-linejoin="round" stroke-linecap="round"/>
<path d="M432.9,353.6 L436.4,350.0 L440.0,347.1 L443.6,345.7 L447.9,345.0 L452.1,344.3 L456.4,345.0 L460.7,345.7 L465.0,345.0 L467.9,346.4" fill="none" stroke="#9c6f68" stroke-width="0.5" stroke-linejoin="round" stroke-linecap="round"/>
<path d="M455.0,372.9 L457.9,370.0 L460.7,367.1 L462.9,363.6 L462.1,360.0 L464.3,356.4 L466.4,353.6 L468.6,350.7" fill="none" stroke="#9c6f68" stroke-width="0.5" stroke-linejoin="round" stroke-linecap="round"/>
<path d="M462.9,363.6 L466.4,362.9 L469.3,360.7 L472.1,358.6 L473.6,357.1" fill="none" stroke="#9c6f68" stroke-width="0.5" stroke-linejoin="round" stroke-linecap="round"/>
<path d="M462.9,363.6 L465.7,366.4 L469.3,368.6 L472.1,367.1 L475.0,365.0 L478.6,363.6 L480.0,362.9" fill="none" stroke="#9c6f68" stroke-width="0.5" stroke-linejoin="round" stroke-linecap="round"/>
<path d="M472.1,367.1 L474.3,370.7 L476.4,373.6 L477.9,376.4 L476.4,379.3 L475.0,382.1 L476.4,385.0 L475.0,390.0" fill="none" stroke="#9c6f68" stroke-width="0.5" stroke-linejoin="round" stroke-linecap="round"/>
<path d="M477.9,376.4 L481.4,375.7 L485.0,376.4 L487.9,375.7" fill="none" stroke="#9c6f68" stroke-width="0.5" stroke-linejoin="round" stroke-linecap="round"/>
<path d="M476.4,385.0 L480.0,384.3 L483.6,385.7 L486.4,384.3 L489.3,382.1 L492.1,382.9 L494.3,380.7" fill="none" stroke="#9c6f68" stroke-width="0.5" stroke-linejoin="round" stroke-linecap="round"/>
<path d="M486.4,384.3 L487.9,387.9 L490.0,391.4 L492.9,393.6 L495.7,392.9 L498.6,394.3 L500.0,397.1 L498.6,400.7" fill="none" stroke="#9c6f68" stroke-width="0.5" stroke-linejoin="round" stroke-linecap="round"/>
<path d="M490.0,391.4 L488.6,395.0 L487.9,396.4" fill="none" stroke="#9c6f68" stroke-width="0.5" stroke-linejoin="round" stroke-linecap="round"/>
<path d="M563.6,383.6 L565.7,387.9 L567.9,391.4 L569.3,393.6" fill="none" stroke="#9c6f68" stroke-width="0.5" stroke-linejoin="round" stroke-linecap="round"/>
<path d="M556.4,401.4 L560.7,400.0 L565.7,397.1 L569.3,395.7 L570.7,396.4" fill="none" stroke="#9c6f68" stroke-width="0.5" stroke-linejoin="round" stroke-linecap="round"/>
<path d="M550.7,398.6 L553.6,400.7 L556.4,401.4 L557.9,405.7 L560.0,409.3 L562.9,407.9 L567.1,407.4 L571.4,408.6 L574.3,409.3" fill="none" stroke="#9c6f68" stroke-width="0.5" stroke-linejoin="round" stroke-linecap="round"/>
<path d="M560.0,409.3 L559.3,412.9 L561.4,415.7 L565.0,416.4 L568.6,417.1 L571.4,418.6" fill="none" stroke="#9c6f68" stroke-width="0.5" stroke-linejoin="round" stroke-linecap="round"/>
<path d="M577.9,377.9 L579.3,380.7 L580.7,383.6 L582.9,385.0" fill="none" stroke="#9c6f68" stroke-width="0.5" stroke-linejoin="round" stroke-linecap="round"/>
<path d="M567.9,420.7 L569.3,425.0 L568.6,429.3 L570.0,432.9" fill="none" stroke="#9c6f68" stroke-width="0.5" stroke-linejoin="round" stroke-linecap="round"/>
<path d="M569.3,425.0 L573.6,426.4 L577.9,427.1" fill="none" stroke="#9c6f68" stroke-width="0.5" stroke-linejoin="round" stroke-linecap="round"/>
<path d="M323.5,216.2 L321.5,217.0 L318.5,216.5 L315.0,215.0 L312.0,216.0 L311.0,219.0 L310.5,222.0 L310.0,225.0 L309.5,227.0 L311.5,228.5 L315.0,229.0 L318.0,230.0 L320.5,231.0" fill="none" stroke="#9c6f68" stroke-width="0.5" stroke-linejoin="round" stroke-linecap="round"/>
<path d="M303.0,224.0 L306.0,224.5 L309.5,225.5" fill="none" stroke="#9c6f68" stroke-width="0.5" stroke-linejoin="round" stroke-linecap="round"/>
<circle cx="472.9" cy="248.6" r="1.5" fill="none" stroke="#9c6f68" stroke-width="0.5"/>
<circle cx="436.4" cy="241.4" r="0.9" fill="none" stroke="#9c6f68" stroke-width="0.5"/>
<circle cx="482.9" cy="278.6" r="1.5" fill="none" stroke="#9c6f68" stroke-width="0.5"/>
<circle cx="524.3" cy="307.9" r="1.2" fill="none" stroke="#9c6f68" stroke-width="0.5"/>
<circle cx="500.7" cy="300.7" r="1.2" fill="none" stroke="#9c6f68" stroke-width="0.5"/>
<ellipse cx="592.7" cy="334.6" rx="1.4" ry="2.4" fill="#851910" stroke="#5a1a10" stroke-width="0.4"/>
<path d="M498.0,33.6 L502.0,36.4 L507.0,38.0 L512.0,36.4 L516.0,34.0 L517.0,28.0 L518.0,22.0 L521.0,18.0 L525.0,17.0 L528.0,17.6 L531.0,21.0 L534.0,19.4 L535.6,20.0" fill="none" stroke="#1c0403" stroke-width="0.75" stroke-linejoin="round" stroke-linecap="round"/>
<path d="M498.0,33.6 L495.0,38.0 L490.0,42.0 L485.0,44.0 L481.0,48.0 L479.0,54.0 L477.0,60.0 L475.0,66.0 L473.0,72.0 L471.0,79.0 L470.0,80.0 L469.7,84.3 L468.9,88.6 L467.9,92.9 L468.6,96.4 L466.4,100.0 L462.9,102.9 L460.7,105.7 L460.0,110.0 L459.7,115.0 L460.0,120.0 L460.7,124.3 L460.0,128.6 L461.4,132.1 L462.9,135.7 L462.6,140.0 L463.6,135.0 L462.9,139.3 L461.4,143.6 L460.7,147.9 L459.3,152.1 L457.9,156.4 L455.7,160.0 L454.3,162.9 L452.9,164.3" fill="none" stroke="#1c0403" stroke-width="0.75" stroke-linejoin="round" stroke-linecap="round"/>
<path d="M498.0,33.6 L503.0,39.0 L508.0,43.0 L511.0,48.0 L512.9,50.0 L515.0,55.7 L516.4,61.4 L517.9,67.1 L519.3,72.1" fill="none" stroke="#1c0403" stroke-width="0.75" stroke-linejoin="round" stroke-linecap="round"/>
<path d="M544.0,169.0 L547.0,168.5 L550.0,168.0 L553.5,169.5 L557.0,170.5 L560.5,170.5 L564.0,170.0 L566.0,168.5" fill="none" stroke="#1c0403" stroke-width="0.75" stroke-linejoin="round" stroke-linecap="round"/>
<path d="M525.5,193.5 L528.0,192.5 L531.0,191.5 L535.0,190.5 L539.0,190.0 L543.5,189.5 L548.0,188.8 L551.5,188.5 L554.5,189.5 L557.5,191.0 L560.5,192.5 L563.5,194.0 L566.5,195.0" fill="none" stroke="#1c0403" stroke-width="0.75" stroke-linejoin="round" stroke-linecap="round"/>
<path d="M541.8,216.5 L544.5,217.0 L547.5,217.5 L550.0,217.8" fill="none" stroke="#1c0403" stroke-width="0.75" stroke-linejoin="round" stroke-linecap="round"/>
<path d="M437.4,228.1 L440.7,228.7 L443.6,228.1 L445.0,226.7" fill="none" stroke="#1c0403" stroke-width="0.75" stroke-linejoin="round" stroke-linecap="round"/>
<path d="M479.3,230.7 L480.7,230.7 L480.0,234.3 L481.1,237.9 L479.3,242.1 L480.7,245.7 L482.9,249.3 L484.0,253.6 L484.3,257.9 L485.0,260.0 L484.7,260.7 L484.3,264.3 L485.0,267.1" fill="none" stroke="#1c0403" stroke-width="0.75" stroke-linejoin="round" stroke-linecap="round"/>
<path d="M420.7,236.4 L421.4,240.0 L420.0,243.6 L420.7,247.1 L423.6,240.7 L421.4,244.3 L422.1,247.9 L420.0,251.4 L417.9,254.3 L416.4,257.9 L415.0,261.4 L416.4,264.3 L415.7,267.9 L415.0,271.4 L414.3,275.0" fill="none" stroke="#1c0403" stroke-width="0.75" stroke-linejoin="round" stroke-linecap="round"/>
<path d="M399.3,258.6 L402.9,257.9 L407.1,258.6 L410.7,257.9 L413.6,259.3 L416.4,260.0" fill="none" stroke="#1c0403" stroke-width="0.75" stroke-linejoin="round" stroke-linecap="round"/>
<path d="M414.3,275.0 L416.4,276.4 L417.1,280.0 L415.0,282.9 L412.9,280.7 L412.1,277.9 L414.3,275.0" fill="none" stroke="#1c0403" stroke-width="0.75" stroke-linejoin="round" stroke-linecap="round"/>
<path d="M395.0,271.4 L397.9,272.1 L401.4,274.3 L404.3,276.4 L407.9,277.9 L410.7,280.0 L412.9,280.7" fill="none" stroke="#1c0403" stroke-width="0.75" stroke-linejoin="round" stroke-linecap="round"/>
<path d="M415.0,282.9 L418.6,284.3 L422.9,285.7 L427.1,287.9 L430.0,289.3 L428.6,293.6 L427.1,297.9 L425.7,302.1 L425.0,305.0" fill="none" stroke="#1c0403" stroke-width="0.75" stroke-linejoin="round" stroke-linecap="round"/>
<path d="M485.0,267.1 L481.4,268.6 L477.1,270.7 L472.9,272.9 L469.3,275.0 L465.7,277.9 L467.9,281.4 L470.7,285.0 L473.6,288.6 L476.4,292.1 L479.3,295.7 L482.1,297.9" fill="none" stroke="#1c0403" stroke-width="0.75" stroke-linejoin="round" stroke-linecap="round"/>
<path d="M485.0,267.1 L487.9,265.7 L490.7,267.1 L493.6,269.3 L495.0,268.6" fill="none" stroke="#1c0403" stroke-width="0.75" stroke-linejoin="round" stroke-linecap="round"/>
<path d="M339.3,357.9 L342.9,361.4 L346.4,364.0 L350.7,366.0 L355.0,367.1 L359.3,367.9 L363.6,369.3 L367.9,370.7 L372.1,372.1 L376.4,372.9 L380.0,373.6 L381.1,375.0" fill="none" stroke="#1c0403" stroke-width="0.75" stroke-linejoin="round" stroke-linecap="round"/>
<path d="M420.0,332.1 L418.6,335.7 L417.1,339.3 L415.7,342.1 L417.1,345.7 L418.6,349.3 L421.4,351.4 L425.0,352.9 L427.9,353.6 L428.6,355.0" fill="none" stroke="#1c0403" stroke-width="0.75" stroke-linejoin="round" stroke-linecap="round"/>
<path d="M270.0,361.0 L275.0,362.0 L280.0,364.0 L285.0,365.0 L289.0,368.0 L291.0,372.0 L288.0,375.0 L285.0,378.0 L283.0,383.0 L281.0,388.0 L278.0,392.0 L276.0,395.0 L277.0,400.0 L275.0,405.0 L274.0,410.0 L275.0,415.0 L273.0,419.0 L271.6,422.2" fill="none" stroke="#1c0403" stroke-width="0.75" stroke-linejoin="round" stroke-linecap="round"/>
<path d="M430.7,290.0 L429.3,294.3 L427.9,298.6 L426.4,303.6 L425.7,308.6 L426.4,312.1" fill="none" stroke="#1c0403" stroke-width="0.75" stroke-linejoin="round" stroke-linecap="round"/>
<path d="M442.9,313.6 L446.4,312.9 L450.0,312.1 L454.3,312.9 L458.6,311.4 L462.9,310.7 L466.4,310.0 L470.0,308.6 L471.4,305.7 L474.3,303.6 L472.9,300.7 L475.0,297.9 L477.9,295.7 L480.0,297.1 L482.9,296.4 L487.1,294.3 L491.4,292.9 L495.7,292.1 L500.0,292.9" fill="none" stroke="#1c0403" stroke-width="0.75" stroke-linejoin="round" stroke-linecap="round"/>
<path d="M480.0,297.1 L477.9,293.6 L475.0,290.0" fill="none" stroke="#1c0403" stroke-width="0.75" stroke-linejoin="round" stroke-linecap="round"/>
<path d="M450.3,322.1 L453.6,321.4 L457.1,320.7 L461.4,320.0 L465.7,319.3 L470.0,320.7 L473.6,322.1 L477.1,323.1 L481.4,322.1 L485.7,321.7 L490.0,320.7 L494.3,319.3 L498.6,318.6 L500.0,319.3" fill="none" stroke="#1c0403" stroke-width="0.75" stroke-linejoin="round" stroke-linecap="round"/>
<path d="M477.1,323.1 L477.9,326.4 L478.6,330.0 L480.0,333.6 L479.3,335.7" fill="none" stroke="#1c0403" stroke-width="0.75" stroke-linejoin="round" stroke-linecap="round"/>
<path d="M481.4,338.6 L485.7,337.9 L489.3,335.7 L492.9,333.6 L497.1,331.4 L500.0,330.0" fill="none" stroke="#1c0403" stroke-width="0.75" stroke-linejoin="round" stroke-linecap="round"/>
<path d="M516.4,283.6 L520.7,282.1 L525.0,282.9 L529.3,285.0 L532.1,283.6 L536.4,282.1 L540.7,281.4 L545.0,282.1 L548.6,283.6 L549.3,287.9" fill="none" stroke="#1c0403" stroke-width="0.75" stroke-linejoin="round" stroke-linecap="round"/>
<path d="M516.4,283.6 L515.0,287.9 L513.6,291.4 L510.7,294.3 L508.6,297.1 L507.1,300.7 L505.7,304.3 L503.6,307.1 L502.1,310.7 L501.4,314.3 L500.7,317.9 L498.6,320.7" fill="none" stroke="#1c0403" stroke-width="0.75" stroke-linejoin="round" stroke-linecap="round"/>
<path d="M508.6,297.1 L512.1,299.3 L516.4,300.7 L520.7,301.4 L523.6,302.1 L526.4,303.6 L530.0,305.0 L533.6,306.4 L536.4,305.7 L539.3,303.6 L542.1,301.4 L545.0,299.3 L547.9,296.4 L549.3,292.9 L550.7,290.7" fill="none" stroke="#1c0403" stroke-width="0.75" stroke-linejoin="round" stroke-linecap="round"/>
<path d="M552.9,295.0 L551.4,299.3 L549.3,303.6 L547.9,307.9 L547.1,312.1 L546.4,315.7 L545.0,319.3 L543.6,323.6 L542.9,327.1 L543.6,331.4" fill="none" stroke="#1c0403" stroke-width="0.75" stroke-linejoin="round" stroke-linecap="round"/>
<path d="M498.6,320.7 L501.4,322.9 L504.3,325.7 L507.9,327.9 L511.4,329.3 L515.7,330.0 L520.0,330.7 L523.6,330.0 L525.7,332.1 L526.1,335.0" fill="none" stroke="#1c0403" stroke-width="0.75" stroke-linejoin="round" stroke-linecap="round"/>
<path d="M475.0,290.0 L479.3,289.3 L483.6,290.7 L487.9,290.0 L492.1,291.4 L496.4,293.6 L500.7,295.0 L505.0,296.4 L508.6,297.1" fill="none" stroke="#1c0403" stroke-width="0.75" stroke-linejoin="round" stroke-linecap="round"/>
<path d="M493.6,275.0 L497.9,277.9 L502.1,276.4 L506.4,278.6 L510.7,281.4 L516.4,283.6" fill="none" stroke="#1c0403" stroke-width="0.75" stroke-linejoin="round" stroke-linecap="round"/>
<path d="M498.6,320.7 L496.4,325.0 L492.9,327.1 L489.3,328.6 L485.7,330.0 L482.1,331.4 L479.3,333.6 L477.1,336.4" fill="none" stroke="#1c0403" stroke-width="0.75" stroke-linejoin="round" stroke-linecap="round"/>
<path d="M566.4,347.9 L570.0,348.3 L574.3,347.9 L578.6,347.1 L582.9,346.4 L587.1,345.4 L590.7,343.6 L594.3,341.4 L597.9,339.7 L601.4,338.6 L605.7,337.9 L610.0,338.6 L614.3,339.3 L616.4,338.9" fill="none" stroke="#1c0403" stroke-width="0.75" stroke-linejoin="round" stroke-linecap="round"/>
<path d="M570.0,380.0 L573.6,378.6 L577.9,377.9 L582.1,377.1 L586.4,377.9 L590.7,377.1 L595.0,377.9 L599.3,376.4 L602.1,377.1 L603.6,379.7" fill="none" stroke="#1c0403" stroke-width="0.75" stroke-linejoin="round" stroke-linecap="round"/>
<path d="M485.5,340.5 L487.0,345.0 L487.5,349.0 L489.0,351.5" fill="none" stroke="#1c0403" stroke-width="0.75" stroke-linejoin="round" stroke-linecap="round"/>
<path d="M489.0,343.0 L490.0,346.5" fill="none" stroke="#1c0403" stroke-width="0.75" stroke-linejoin="round" stroke-linecap="round"/>
<path d="M491.0,353.5 L493.0,355.5 L495.0,357.5" fill="none" stroke="#1c0403" stroke-width="0.75" stroke-linejoin="round" stroke-linecap="round"/>
<path d="M503.5,366.2 L507.0,365.5 L510.0,365.8 L513.0,366.5" fill="none" stroke="#1c0403" stroke-width="0.75" stroke-linejoin="round" stroke-linecap="round"/>
<path d="M509.0,368.0 L512.0,367.8" fill="none" stroke="#1c0403" stroke-width="0.75" stroke-linejoin="round" stroke-linecap="round"/>
<path d="M516.0,367.5 L520.0,369.0" fill="none" stroke="#1c0403" stroke-width="0.75" stroke-linejoin="round" stroke-linecap="round"/>
<path d="M603.6,401.4 L606.4,398.6 L609.3,400.0 L610.7,402.6 L607.1,403.1 L604.3,402.6Z" fill="#851910" stroke="#1c0403" stroke-width="0.8" stroke-linejoin="round"/>
<path d="M605.0,409.3 L607.4,409.3 L608.3,412.1 L606.9,414.3 L605.4,412.1Z" fill="#851910" stroke="#1c0403" stroke-width="0.8" stroke-linejoin="round"/>
<path d="M630.0,435.0 L632.1,431.4 L633.6,432.1 L632.9,435.0 L631.1,437.6 L629.7,437.1Z" fill="#851910" stroke="#1c0403" stroke-width="0.8" stroke-linejoin="round"/>
<path d="M624.6,441.7 L625.4,443.6 L624.0,446.4 L623.1,445.7Z" fill="#851910" stroke="#1c0403" stroke-width="0.8" stroke-linejoin="round"/>
<path d="M593.6,393.1 L596.4,392.9 L596.6,394.9 L594.0,395.1Z" fill="#851910" stroke="#1c0403" stroke-width="0.8" stroke-linejoin="round"/>
<path d="M614.3,417.4 L617.7,417.1 L617.7,418.6 L614.6,418.9Z" fill="#851910" stroke="#1c0403" stroke-width="0.8" stroke-linejoin="round"/>
<path d="M608.0,422.0 L611.4,420.6 L611.7,421.4 L608.3,422.6Z" fill="#851910" stroke="#1c0403" stroke-width="0.8" stroke-linejoin="round"/>
<path d="M594.6,421.7 L598.0,419.7 L598.6,420.6 L595.4,422.3Z" fill="#851910" stroke="#1c0403" stroke-width="0.8" stroke-linejoin="round"/>
<path d="M619.3,428.9 L622.6,427.4 L622.9,428.3 L619.7,429.4Z" fill="#851910" stroke="#1c0403" stroke-width="0.8" stroke-linejoin="round"/>
<path d="M607.9,431.1 L610.7,430.0 L610.9,430.7 L608.1,431.7Z" fill="#851910" stroke="#1c0403" stroke-width="0.8" stroke-linejoin="round"/>
<path d="M541.4,404.3 L543.6,405.0 L545.7,408.6 L544.3,408.9 L542.1,406.9Z" fill="#851910" stroke="#1c0403" stroke-width="0.8" stroke-linejoin="round"/>
<path d="M550.7,421.4 L553.6,420.7 L555.0,423.6 L552.9,424.6 L551.0,423.6Z" fill="#851910" stroke="#1c0403" stroke-width="0.8" stroke-linejoin="round"/>
<circle cx="587.9" cy="385.4" r="1.55" fill="#1e0302"/>
<circle cx="597.1" cy="386.4" r="1.25" fill="#1e0302"/>
<circle cx="591.1" cy="408.6" r="1.35" fill="#1e0302"/>
<circle cx="605.0" cy="429.3" r="1.45" fill="#1e0302"/>
<circle cx="602.1" cy="429.3" r="1.25" fill="#1e0302"/>
<circle cx="580.7" cy="443.6" r="1.35" fill="#1e0302"/>
<circle cx="593.6" cy="398.6" r="0.95" fill="#1e0302"/>
<circle cx="582.1" cy="406.4" r="0.95" fill="#1e0302"/>
<circle cx="585.0" cy="404.3" r="0.95" fill="#1e0302"/>
<circle cx="600.7" cy="424.3" r="0.95" fill="#1e0302"/>
<circle cx="604.0" cy="426.0" r="0.95" fill="#1e0302"/>
<circle cx="591.4" cy="424.3" r="0.95" fill="#1e0302"/>
<circle cx="592.1" cy="427.9" r="0.95" fill="#1e0302"/>
<circle cx="598.6" cy="427.1" r="0.95" fill="#1e0302"/>
<circle cx="594.3" cy="430.7" r="0.95" fill="#1e0302"/>
<circle cx="596.4" cy="433.6" r="0.95" fill="#1e0302"/>
<circle cx="590.0" cy="435.0" r="0.95" fill="#1e0302"/>
<circle cx="603.6" cy="434.3" r="0.95" fill="#1e0302"/>
<circle cx="605.7" cy="437.1" r="0.95" fill="#1e0302"/>
<circle cx="614.3" cy="433.6" r="0.95" fill="#1e0302"/>
<circle cx="619.3" cy="426.4" r="0.95" fill="#1e0302"/>
<circle cx="618.6" cy="424.6" r="0.95" fill="#1e0302"/>
<circle cx="624.3" cy="431.4" r="0.95" fill="#1e0302"/>
<circle cx="615.7" cy="422.1" r="0.95" fill="#1e0302"/>
<circle cx="628.6" cy="430.0" r="0.95" fill="#1e0302"/>
<circle cx="622.1" cy="447.1" r="0.95" fill="#1e0302"/>
<circle cx="587.1" cy="405.7" r="0.95" fill="#1e0302"/>
<circle cx="612.9" cy="427.1" r="0.95" fill="#1e0302"/>
<circle cx="552.9" cy="416.6" r="1.15" fill="#1e0302"/>
<circle cx="555.3" cy="428.0" r="1.15" fill="#1e0302"/>
<circle cx="455.7" cy="59.3" r="0.95" fill="#1e0302"/>
<circle cx="459.3" cy="67.1" r="0.95" fill="#1e0302"/>
<circle cx="462.1" cy="57.1" r="0.95" fill="#1e0302"/>
<circle cx="464.3" cy="58.6" r="0.95" fill="#1e0302"/>
<circle cx="457.9" cy="72.9" r="0.95" fill="#1e0302"/>
<circle cx="460.7" cy="52.1" r="0.95" fill="#1e0302"/>
<circle cx="467.4" cy="47.4" r="0.95" fill="#1e0302"/>
<circle cx="472.9" cy="35.0" r="0.95" fill="#1e0302"/>
<circle cx="487.1" cy="20.7" r="0.95" fill="#1e0302"/>
<circle cx="491.4" cy="20.0" r="0.95" fill="#1e0302"/>
<circle cx="497.1" cy="15.0" r="0.95" fill="#1e0302"/>
<circle cx="501.4" cy="12.1" r="0.95" fill="#1e0302"/>
<circle cx="433.6" cy="110.0" r="0.95" fill="#1e0302"/>
<circle cx="436.4" cy="107.1" r="0.95" fill="#1e0302"/>
<circle cx="421.4" cy="123.6" r="0.95" fill="#1e0302"/>
<circle cx="414.3" cy="137.1" r="0.95" fill="#1e0302"/>
<circle cx="413.6" cy="147.1" r="0.95" fill="#1e0302"/>
<circle cx="415.0" cy="154.3" r="0.95" fill="#1e0302"/>
<circle cx="508.6" cy="109.3" r="0.95" fill="#1e0302"/>
<circle cx="510.7" cy="106.4" r="0.95" fill="#1e0302"/>
<circle cx="512.1" cy="111.4" r="0.95" fill="#1e0302"/>
<circle cx="509.3" cy="146.4" r="0.95" fill="#1e0302"/>
<circle cx="512.1" cy="147.9" r="0.95" fill="#1e0302"/>
<circle cx="516.4" cy="142.1" r="0.95" fill="#1e0302"/>
<circle cx="520.0" cy="143.6" r="0.95" fill="#1e0302"/>
<circle cx="523.6" cy="145.7" r="0.95" fill="#1e0302"/>
<circle cx="525.7" cy="148.6" r="0.95" fill="#1e0302"/>
<circle cx="515.0" cy="140.0" r="0.95" fill="#1e0302"/>
<circle cx="508.6" cy="146.4" r="1.45" fill="#1e0302"/>
<circle cx="475.7" cy="459.0" r="0.95" fill="#1e0302"/>
<circle cx="491.4" cy="457.6" r="0.95" fill="#1e0302"/>
<circle cx="466.9" cy="448.0" r="0.95" fill="#1e0302"/>
<circle cx="493.6" cy="458.3" r="0.95" fill="#1e0302"/>
<circle cx="444.6" cy="369.0" r="0.95" fill="#1e0302"/>
<circle cx="449.3" cy="372.4" r="0.95" fill="#1e0302"/>
<circle cx="455.0" cy="377.6" r="0.95" fill="#1e0302"/>
<circle cx="484.3" cy="397.6" r="0.95" fill="#1e0302"/>
<circle cx="498.9" cy="378.3" r="0.95" fill="#1e0302"/>
<circle cx="506.4" cy="375.3" r="0.95" fill="#1e0302"/>
<circle cx="452.9" cy="187.9" r="0.95" fill="#1e0302"/>
<circle cx="457.1" cy="195.0" r="0.95" fill="#1e0302"/>
<circle cx="462.1" cy="200.7" r="0.95" fill="#1e0302"/>
<circle cx="451.4" cy="206.4" r="0.95" fill="#1e0302"/>
<circle cx="457.9" cy="218.6" r="0.95" fill="#1e0302"/>
<circle cx="469.3" cy="206.4" r="0.95" fill="#1e0302"/>
<circle cx="435.0" cy="220.0" r="0.95" fill="#1e0302"/>
<circle cx="433.6" cy="222.9" r="0.95" fill="#1e0302"/>
<circle cx="431.4" cy="226.4" r="0.95" fill="#1e0302"/>
<circle cx="413.6" cy="236.4" r="0.95" fill="#1e0302"/>
<circle cx="409.3" cy="237.1" r="0.95" fill="#1e0302"/>
<circle cx="367.3" cy="370.9" r="1.2" fill="#fff"/>
<circle cx="443.7" cy="316.5" r="0.8" fill="#8c8c8c"/>
<path d="M342.5,112.0 L345.0,111.5 L347.5,112.5 L347.0,115.0 L345.5,116.5 L346.0,119.0 L344.5,121.5 L343.5,119.0 L344.0,116.0 L342.5,114.5Z" fill="#ffffff" stroke="#c2c2c2" stroke-width="0.5" stroke-linejoin="round"/>
<path d="M366.5,4.5 L369.0,3.0 L371.5,2.2 L372.0,3.2 L369.5,4.8 L367.0,5.6Z" fill="#ffffff" stroke="#c2c2c2" stroke-width="0.5" stroke-linejoin="round"/>
<path d="M378.5,138.5 L379.4,139.5 L376.0,146.0 L374.0,148.5 L373.6,147.5 L376.0,142.5Z" fill="#ffffff" stroke="#c2c2c2" stroke-width="0.5" stroke-linejoin="round"/>
</g>
<!-- ================= LOGO ================= -->
<g id="logo">
 <path d="M21,15.5 L24.5,11 L30,9.6 L33.5,7.2 L40,6.4 L46,8 L50.5,11 L52.6,15 L52.4,20.5 L50,25 L46.5,27.8 L42,28.6 L38.5,31 L33.5,30.2 L29.6,31.4 L25,30 L21.5,27.2 L20.2,23 L18.6,20 Z" fill="#b4d67f"/>
 <path d="M15.3,23 C15.8,30 21,36.4 30.2,37.6" fill="none" stroke="#74b230" stroke-width="1.9" stroke-linecap="round"/>
 <g fill="none" stroke="#1c2b5a" stroke-width="1.25" stroke-linecap="round">
  <path d="M15.6,22.5 C14.4,12 23,3.2 35,3 C46.5,2.9 55.4,10.5 54.9,20.8 C54.6,26 52.4,30 49,32.6" stroke-width="1.5"/>
  <path d="M18.6,11.6 C27,7.6 42,6.4 51.6,10.4"/>
  <path d="M15.6,20.6 C26,17.4 44,16.4 54.6,18.8"/>
  <path d="M18.4,29.4 C28,26.8 42,26 51.6,28.4"/>
  <path d="M24.6,5.4 C20.4,12 19.6,22 22.6,31.4"/>
  <path d="M34,3 C32,10 32,22 34.6,31.6"/>
  <path d="M44,4.8 C45.8,10 46.4,21 45.8,30.6"/>
 </g>
 <g fill="none" stroke-width="2.1" stroke-linecap="round" stroke-linejoin="round">
  <path d="M29.3,40.7 L37.5,40.7 A4.2,5.6 0 1,0 36.6,44.7" stroke="#1c2b5a"/>
  <path d="M48.4,37.5 A4.2,5.6 0 1,0 48.4,44.1" stroke="#74b230"/>
  <ellipse cx="56.6" cy="40.9" rx="4.7" ry="5.6" stroke="#74b230"/>
  <path d="M61.4,46.8 L61.4,40 C61.4,32 61.2,27.6 63.5,24.8 C65,23 67.3,22.9 67.8,24.4 C68.2,25.8 66.6,26.9 65.5,26.2" stroke="#74b230" stroke-width="1.9"/>
  <path d="M76.2,37.5 A4.5,5.6 0 1,0 76.2,44.1" stroke="#1c2b5a"/>
 </g>
 <rect x="27.5" y="51.3" width="12.8" height="8.5" fill="#2a4a9c"/>
 <circle cx="33.9" cy="55.5" r="2.4" fill="none" stroke="#e8d44a" stroke-width="0.7" stroke-dasharray="0.6 0.65"/>
 <text x="43" y="53.7" font-size="2.9" font-weight="bold" textLength="35" lengthAdjust="spacingAndGlyphs" style="fill:#1c2b5a">EUROPEAN CENTRE FOR</text>
 <text x="43" y="57" font-size="2.9" font-weight="bold" textLength="35.5" lengthAdjust="spacingAndGlyphs" style="fill:#1c2b5a">DISEASE PREVENTION</text>
 <text x="43" y="60.3" font-size="2.9" font-weight="bold" textLength="22.5" lengthAdjust="spacingAndGlyphs" style="fill:#1c2b5a">AND CONTROL</text>
</g>
<!-- ================= TITLE ================= -->
<g id="title">
 <text class="t" x="12.6" y="98.2" textLength="196.4" lengthAdjust="spacingAndGlyphs">14-day COVID-19 case notification rate</text>
 <text class="t" x="12.4" y="110.2" textLength="253.6" lengthAdjust="spacingAndGlyphs">per 100 000 population and test positivity, EU/EEA</text>
 <text class="t" x="12.2" y="122.2" textLength="69.3" lengthAdjust="spacingAndGlyphs">weeks 01 - 02</text>
</g>
<!-- ================= MATRIX ================= -->
<g id="matrix" stroke-width="0.7">
 <rect x="34.1" y="139.8" width="37.7" height="18.9" fill="#851910" stroke="#4d0d08"/>
 <rect x="73.1" y="139.8" width="37.7" height="18.9" fill="#851910" stroke="#4d0d08"/>
 <rect x="112.1" y="139.8" width="37.9" height="18.9" fill="#851910" stroke="#4d0d08"/>
 <rect x="34.1" y="160.2" width="37.7" height="18.9" fill="#c6411c" stroke="#7a2510"/>
 <rect x="73.1" y="160.2" width="37.7" height="18.9" fill="#c6411c" stroke="#7a2510"/>
 <rect x="112.1" y="160.2" width="37.9" height="18.9" fill="#c6411c" stroke="#7a2510"/>
 <rect x="34.1" y="180.9" width="37.7" height="18.9" fill="#f3a931" stroke="#9a6a18"/>
 <rect x="73.1" y="180.9" width="37.7" height="18.9" fill="#f3a931" stroke="#9a6a18"/>
 <rect x="112.1" y="180.9" width="37.9" height="18.9" fill="#c6411c" stroke="#7a2510"/>
 <rect x="34.1" y="201.5" width="37.7" height="18.9" fill="#66b32e" stroke="#3c6f18"/>
 <rect x="73.1" y="201.5" width="37.7" height="18.9" fill="#f3a931" stroke="#9a6a18"/>
 <rect x="112.1" y="201.5" width="37.9" height="18.9" fill="#f3a931" stroke="#9a6a18"/>
 <rect x="34.1" y="222.1" width="37.7" height="18.9" fill="#66b32e" stroke="#3c6f18"/>
 <rect x="73.1" y="222.1" width="37.7" height="18.9" fill="#66b32e" stroke="#3c6f18"/>
 <rect x="112.1" y="222.1" width="37.9" height="18.9" fill="#f3a931" stroke="#9a6a18"/>
</g>
<g id="axes">
 <path d="M22.7,242.5 L22.7,142" stroke="#000" stroke-width="0.9" fill="none"/>
 <path d="M22.7,138.4 L20.9,144 L24.5,144 Z" fill="#000"/>
 <path d="M30,253.6 L144,253.6" stroke="#000" stroke-width="0.9" fill="none"/>
 <path d="M148,253.6 L142.6,251.8 L142.6,255.4 Z" fill="#000"/>
 <text transform="translate(18,245) rotate(-90)" font-size="5.7" textLength="110" stroke="#000" stroke-width="0.12" lengthAdjust="spacingAndGlyphs" style="fill:#000">14-day notification rate per 100 000 population</text>
 <text transform="translate(32.6,154.5) rotate(-90)" font-size="3.8" style="fill:#111">≥500</text>
 <text transform="translate(32.6,178.5) rotate(-90)" font-size="3.8" style="fill:#111">&gt;200-499</text>
 <text transform="translate(32.6,196.5) rotate(-90)" font-size="3.8" style="fill:#111">75-200</text>
 <text transform="translate(32.6,216) rotate(-90)" font-size="3.8" style="fill:#111">50-74</text>
 <text transform="translate(32.6,235) rotate(-90)" font-size="3.8" style="fill:#111">&lt;50</text>
 <text x="53" y="248.6" font-size="6" text-anchor="middle" style="fill:#111">&lt;1%</text>
 <text x="92" y="248.6" font-size="6" text-anchor="middle" style="fill:#111">1&lt;4%</text>
 <text x="131" y="248.6" font-size="6" text-anchor="middle" style="fill:#111">≥4%</text>
 <text x="75.4" y="261.3" font-size="5.4" textLength="32.8" lengthAdjust="spacingAndGlyphs" style="fill:#222">Positivity rate</text>
</g>
<!-- ================= LEGEND ================= -->
<g id="legend">
 <rect x="12.3" y="274.3" width="24" height="11.7" fill="#bdbdbd" stroke="#6a6a6a" stroke-width="0.7"/>
 <rect x="12.3" y="291.3" width="24" height="11.5" fill="#8c8c8c" stroke="#555" stroke-width="0.7"/>
 <rect x="12.3" y="307.7" width="24" height="11.5" fill="#e4e4e4" stroke="#777" stroke-width="0.7"/>
 <text class="l" x="42" y="283.4" textLength="155.6" lengthAdjust="spacingAndGlyphs">Testing rate &lt; 300 per 100 000 population</text>
 <text class="l" x="42" y="300" textLength="62.4" lengthAdjust="spacingAndGlyphs">No data available</text>
 <text class="l" x="42" y="316.6" textLength="45.4" lengthAdjust="spacingAndGlyphs">Not included</text>
 <text class="h" x="12.4" y="333.2" textLength="81.2" lengthAdjust="spacingAndGlyphs">Regions not visible</text>
 <text class="h" x="12" y="344.6" textLength="102.4" lengthAdjust="spacingAndGlyphs">in the main map extent</text>
 <g fill="#851910" stroke="#4d0d08" stroke-width="0.7">
  <rect x="12.3" y="353.7" width="23.6" height="10.6"/>
  <rect x="12.3" y="369.7" width="23.6" height="10.6"/>
  <rect x="12.3" y="385.9" width="23.6" height="10.6"/>
  <rect x="12.3" y="401.9" width="23.6" height="10.6"/>
  <rect x="103.3" y="353.7" width="23.6" height="10.6"/>
  <rect x="103.3" y="369.7" width="23.6" height="10.6"/>
  <rect x="103.3" y="385.9" width="23.6" height="10.6"/>
  <rect x="103.3" y="401.9" width="23.6" height="10.6"/>
  <rect x="12.3" y="454.3" width="23.6" height="10.8"/>
 </g>
 <rect x="103.3" y="456.3" width="23.6" height="10.6" fill="#8c8c8c" stroke="#444" stroke-width="0.7"/>
 <text class="l" x="41.4" y="362" textLength="23.6" lengthAdjust="spacingAndGlyphs">Azores</text>
 <text class="s" x="41.4" y="372.6" textLength="34.6" lengthAdjust="spacingAndGlyphs">Guadeloupe</text>
 <text class="s" x="41.4" y="380.6" textLength="47.6" lengthAdjust="spacingAndGlyphs">and Saint Martin</text>
 <text class="l" x="41.4" y="394.6" textLength="40.6" lengthAdjust="spacingAndGlyphs">La Reunion</text>
 <text class="l" x="41.4" y="410.6" textLength="38.6" lengthAdjust="spacingAndGlyphs">Martinique</text>
 <text class="l" x="132" y="362.6" textLength="54" lengthAdjust="spacingAndGlyphs">Canary Islands</text>
 <text class="l" x="132" y="377.6" textLength="27.4" lengthAdjust="spacingAndGlyphs">Guyane</text>
 <text class="l" x="132" y="394" textLength="28.6" lengthAdjust="spacingAndGlyphs">Madeira</text>
 <text class="l" x="132" y="410" textLength="29" lengthAdjust="spacingAndGlyphs">Mayotte</text>
 <text class="h" x="12.4" y="434.6" textLength="88.6" lengthAdjust="spacingAndGlyphs">Countries not visible</text>
 <text class="h" x="12" y="446.6" textLength="102.4" lengthAdjust="spacingAndGlyphs">in the main map extent</text>
 <text class="l" x="41.4" y="463" textLength="19.2" lengthAdjust="spacingAndGlyphs">Malta</text>
 <text class="l" x="132" y="464.3" textLength="48.1" lengthAdjust="spacingAndGlyphs">Liechtenstein</text>
</g>
<g id="footer">
 <text class="f" x="5" y="483.9" textLength="352.2" lengthAdjust="spacingAndGlyphs">Administrative boundaries: © EuroGeographics © UN-FAO © Turkstat.©Kartverket©Instituto Nacional de Estatística - Statistics Portugal.</text>
 <text class="f" x="5" y="491" textLength="406.8" lengthAdjust="spacingAndGlyphs">The boundaries and names shown on this map do not imply official endorsement or acceptance by the European Union. ECDC. Map produced on: 19 Jan 2022</text>
</g>
</svg>
</body></html>
